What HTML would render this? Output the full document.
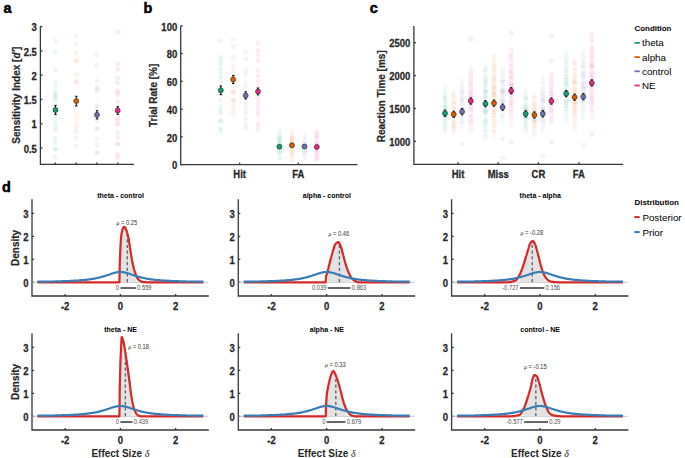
<!DOCTYPE html>
<html><head><meta charset="utf-8"><style>html,body{margin:0;padding:0;background:#fff;overflow:hidden}svg{display:block}</style></head>
<body><svg width="685" height="458" viewBox="0 0 685 458" font-family='"Liberation Sans", sans-serif'>
<rect width="685" height="458" fill="#fff"/>
<defs><filter id="bl" x="-50%" y="-10%" width="200%" height="120%"><feGaussianBlur stdDeviation="0.6"/></filter></defs>
<text transform="translate(3.4,12.9) scale(1.03,1)" font-size="14" font-weight="bold" fill="#000" stroke="#000" stroke-width="0.5">a</text>
<text transform="translate(143.4,12.9) scale(1.03,1)" font-size="14" font-weight="bold" fill="#000" stroke="#000" stroke-width="0.5">b</text>
<text transform="translate(369.7,12.9) scale(1.03,1)" font-size="14" font-weight="bold" fill="#000" stroke="#000" stroke-width="0.5">c</text>
<text transform="translate(2.0,191.5) scale(1.03,1)" font-size="14" font-weight="bold" fill="#000" stroke="#000" stroke-width="0.5">d</text>
<path d="M40.40,26.20 L40.40,164.40 L133.90,164.40" fill="none" stroke="#383838" stroke-width="1.3"/>
<line x1="40.40" y1="148.10" x2="42.40" y2="148.10" stroke="#383838" stroke-width="1.3" />
<text transform="translate(36.90,152.80) scale(1,1.2)" font-size="9.5" text-anchor="end" font-weight="bold" fill="#262626" stroke="#262626" stroke-width="0.22">0.5</text>
<line x1="40.40" y1="123.78" x2="42.40" y2="123.78" stroke="#383838" stroke-width="1.3" />
<text transform="translate(36.90,128.48) scale(1,1.2)" font-size="9.5" text-anchor="end" font-weight="bold" fill="#262626" stroke="#262626" stroke-width="0.22">1</text>
<line x1="40.40" y1="99.46" x2="42.40" y2="99.46" stroke="#383838" stroke-width="1.3" />
<text transform="translate(36.90,104.16) scale(1,1.2)" font-size="9.5" text-anchor="end" font-weight="bold" fill="#262626" stroke="#262626" stroke-width="0.22">1.5</text>
<line x1="40.40" y1="75.14" x2="42.40" y2="75.14" stroke="#383838" stroke-width="1.3" />
<text transform="translate(36.90,79.84) scale(1,1.2)" font-size="9.5" text-anchor="end" font-weight="bold" fill="#262626" stroke="#262626" stroke-width="0.22">2</text>
<line x1="40.40" y1="50.82" x2="42.40" y2="50.82" stroke="#383838" stroke-width="1.3" />
<text transform="translate(36.90,55.52) scale(1,1.2)" font-size="9.5" text-anchor="end" font-weight="bold" fill="#262626" stroke="#262626" stroke-width="0.22">2.5</text>
<line x1="40.40" y1="26.50" x2="42.40" y2="26.50" stroke="#383838" stroke-width="1.3" />
<text transform="translate(36.90,31.20) scale(1,1.2)" font-size="9.5" text-anchor="end" font-weight="bold" fill="#262626" stroke="#262626" stroke-width="0.22">3</text>
<line x1="55.30" y1="164.40" x2="55.30" y2="162.40" stroke="#383838" stroke-width="1.3" />
<line x1="76.20" y1="164.40" x2="76.20" y2="162.40" stroke="#383838" stroke-width="1.3" />
<line x1="96.90" y1="164.40" x2="96.90" y2="162.40" stroke="#383838" stroke-width="1.3" />
<line x1="117.80" y1="164.40" x2="117.80" y2="162.40" stroke="#383838" stroke-width="1.3" />
<text transform="translate(19.80,95.20) rotate(-90)" font-size="10" text-anchor="middle" font-weight="bold" fill="#262626" stroke="#262626" stroke-width="0.2">Sensitivity Index [<tspan font-style="italic">d'</tspan>]</text>
<g fill="#1b9e77" filter="url(#bl)"><circle cx="55.3" cy="41.1" r="2.5" fill-opacity="0.075"/><circle cx="55.3" cy="52.4" r="2.5" fill-opacity="0.075"/><circle cx="55.3" cy="70.1" r="2.5" fill-opacity="0.075"/><circle cx="55.3" cy="82.6" r="2.5" fill-opacity="0.075"/><circle cx="55.3" cy="87.4" r="2.5" fill-opacity="0.075"/><circle cx="55.3" cy="93.9" r="2.5" fill-opacity="0.075"/><circle cx="55.3" cy="92.4" r="2.5" fill-opacity="0.075"/><circle cx="55.3" cy="97.3" r="2.5" fill-opacity="0.075"/><circle cx="55.3" cy="97.3" r="2.5" fill-opacity="0.075"/><circle cx="55.3" cy="101.3" r="2.5" fill-opacity="0.075"/><circle cx="55.3" cy="114.2" r="2.5" fill-opacity="0.075"/><circle cx="55.3" cy="119.1" r="2.5" fill-opacity="0.075"/><circle cx="55.3" cy="123.9" r="2.5" fill-opacity="0.075"/><circle cx="55.3" cy="127.2" r="2.5" fill-opacity="0.075"/><circle cx="55.3" cy="130.4" r="2.5" fill-opacity="0.075"/><circle cx="55.3" cy="137.7" r="2.5" fill-opacity="0.075"/><circle cx="55.3" cy="142.5" r="2.5" fill-opacity="0.075"/><circle cx="55.3" cy="149" r="2.5" fill-opacity="0.075"/><circle cx="55.3" cy="149" r="2.5" fill-opacity="0.075"/><circle cx="55.3" cy="157" r="2.5" fill-opacity="0.075"/></g>
<g fill="#d95f02" filter="url(#bl)"><circle cx="76.3" cy="36.5" r="2.5" fill-opacity="0.075"/><circle cx="76.3" cy="44.3" r="2.5" fill-opacity="0.075"/><circle cx="76.3" cy="53" r="2.5" fill-opacity="0.075"/><circle cx="76.3" cy="60.8" r="2.5" fill-opacity="0.075"/><circle cx="76.3" cy="60.8" r="2.5" fill-opacity="0.075"/><circle cx="76.3" cy="74.5" r="2.5" fill-opacity="0.075"/><circle cx="76.3" cy="81.8" r="2.5" fill-opacity="0.075"/><circle cx="76.3" cy="81.8" r="2.5" fill-opacity="0.075"/><circle cx="76.3" cy="109.4" r="2.5" fill-opacity="0.075"/><circle cx="76.3" cy="114.2" r="2.5" fill-opacity="0.075"/><circle cx="76.3" cy="119.1" r="2.5" fill-opacity="0.075"/><circle cx="76.3" cy="123.9" r="2.5" fill-opacity="0.075"/><circle cx="76.3" cy="128" r="2.5" fill-opacity="0.075"/><circle cx="76.3" cy="132" r="2.5" fill-opacity="0.075"/><circle cx="76.3" cy="138.5" r="2.5" fill-opacity="0.075"/><circle cx="76.3" cy="146.5" r="2.5" fill-opacity="0.075"/></g>
<g fill="#7570b3" filter="url(#bl)"><circle cx="97" cy="55.1" r="2.5" fill-opacity="0.075"/><circle cx="97" cy="65.3" r="2.5" fill-opacity="0.075"/><circle cx="97" cy="81" r="2.5" fill-opacity="0.075"/><circle cx="97" cy="88.2" r="2.5" fill-opacity="0.075"/><circle cx="97" cy="88.2" r="2.5" fill-opacity="0.075"/><circle cx="97" cy="91.6" r="2.5" fill-opacity="0.075"/><circle cx="97" cy="105.3" r="2.5" fill-opacity="0.075"/><circle cx="97" cy="107.8" r="2.5" fill-opacity="0.075"/><circle cx="97" cy="120.7" r="2.5" fill-opacity="0.075"/><circle cx="97" cy="128.8" r="2.5" fill-opacity="0.075"/><circle cx="97" cy="128.8" r="2.5" fill-opacity="0.075"/><circle cx="97" cy="138.5" r="2.5" fill-opacity="0.075"/><circle cx="97" cy="144.9" r="2.5" fill-opacity="0.075"/><circle cx="97" cy="152.7" r="2.5" fill-opacity="0.075"/><circle cx="97" cy="152.7" r="2.5" fill-opacity="0.075"/></g>
<g fill="#e7298a" filter="url(#bl)"><circle cx="117.6" cy="32" r="2.5" fill-opacity="0.075"/><circle cx="117.6" cy="64.3" r="2.5" fill-opacity="0.075"/><circle cx="117.6" cy="69.2" r="2.5" fill-opacity="0.075"/><circle cx="117.6" cy="77.7" r="2.5" fill-opacity="0.075"/><circle cx="117.6" cy="82.6" r="2.5" fill-opacity="0.075"/><circle cx="117.6" cy="91.5" r="2.5" fill-opacity="0.075"/><circle cx="117.6" cy="91.6" r="2.5" fill-opacity="0.075"/><circle cx="117.6" cy="94.8" r="2.5" fill-opacity="0.075"/><circle cx="117.6" cy="102.1" r="2.5" fill-opacity="0.075"/><circle cx="117.6" cy="108.6" r="2.5" fill-opacity="0.075"/><circle cx="117.6" cy="119.1" r="2.5" fill-opacity="0.075"/><circle cx="117.6" cy="119.1" r="2.5" fill-opacity="0.075"/><circle cx="117.6" cy="123.9" r="2.5" fill-opacity="0.075"/><circle cx="117.6" cy="123.9" r="2.5" fill-opacity="0.075"/><circle cx="117.6" cy="132.8" r="2.5" fill-opacity="0.075"/><circle cx="117.6" cy="137.7" r="2.5" fill-opacity="0.075"/><circle cx="117.6" cy="144.1" r="2.5" fill-opacity="0.075"/><circle cx="117.6" cy="144.1" r="2.5" fill-opacity="0.075"/><circle cx="117.6" cy="154.6" r="2.5" fill-opacity="0.075"/><circle cx="117.6" cy="157.9" r="2.5" fill-opacity="0.075"/></g>
<line x1="55.50" y1="105.40" x2="55.50" y2="114.40" stroke="#111" stroke-width="1.0" />
<line x1="54.30" y1="105.40" x2="56.70" y2="105.40" stroke="#111" stroke-width="1.1" />
<line x1="54.30" y1="114.40" x2="56.70" y2="114.40" stroke="#111" stroke-width="1.1" />
<circle cx="55.50" cy="109.90" r="2.5" fill="#1b9e77" stroke="#1a1a1a" stroke-width="0.55"/>
<line x1="76.30" y1="96.30" x2="76.30" y2="105.90" stroke="#111" stroke-width="1.0" />
<line x1="75.10" y1="96.30" x2="77.50" y2="96.30" stroke="#111" stroke-width="1.1" />
<line x1="75.10" y1="105.90" x2="77.50" y2="105.90" stroke="#111" stroke-width="1.1" />
<circle cx="76.30" cy="101.10" r="2.5" fill="#d95f02" stroke="#1a1a1a" stroke-width="0.55"/>
<line x1="97.00" y1="110.70" x2="97.00" y2="118.90" stroke="#111" stroke-width="1.0" />
<line x1="95.80" y1="110.70" x2="98.20" y2="110.70" stroke="#111" stroke-width="1.1" />
<line x1="95.80" y1="118.90" x2="98.20" y2="118.90" stroke="#111" stroke-width="1.1" />
<circle cx="97.00" cy="114.80" r="2.5" fill="#7570b3" stroke="#1a1a1a" stroke-width="0.55"/>
<line x1="117.70" y1="106.70" x2="117.70" y2="114.30" stroke="#111" stroke-width="1.0" />
<line x1="116.50" y1="106.70" x2="118.90" y2="106.70" stroke="#111" stroke-width="1.1" />
<line x1="116.50" y1="114.30" x2="118.90" y2="114.30" stroke="#111" stroke-width="1.1" />
<circle cx="117.70" cy="110.50" r="2.5" fill="#e7298a" stroke="#1a1a1a" stroke-width="0.55"/>
<path d="M180.70,25.90 L180.70,164.60 L357.50,164.60" fill="none" stroke="#383838" stroke-width="1.3"/>
<line x1="180.70" y1="164.60" x2="182.70" y2="164.60" stroke="#383838" stroke-width="1.3" />
<text transform="translate(177.20,169.30) scale(1,1.2)" font-size="9.5" text-anchor="end" font-weight="bold" fill="#262626" stroke="#262626" stroke-width="0.22">0</text>
<line x1="180.70" y1="136.84" x2="182.70" y2="136.84" stroke="#383838" stroke-width="1.3" />
<text transform="translate(177.20,141.54) scale(1,1.2)" font-size="9.5" text-anchor="end" font-weight="bold" fill="#262626" stroke="#262626" stroke-width="0.22">20</text>
<line x1="180.70" y1="109.08" x2="182.70" y2="109.08" stroke="#383838" stroke-width="1.3" />
<text transform="translate(177.20,113.78) scale(1,1.2)" font-size="9.5" text-anchor="end" font-weight="bold" fill="#262626" stroke="#262626" stroke-width="0.22">40</text>
<line x1="180.70" y1="81.32" x2="182.70" y2="81.32" stroke="#383838" stroke-width="1.3" />
<text transform="translate(177.20,86.02) scale(1,1.2)" font-size="9.5" text-anchor="end" font-weight="bold" fill="#262626" stroke="#262626" stroke-width="0.22">60</text>
<line x1="180.70" y1="53.56" x2="182.70" y2="53.56" stroke="#383838" stroke-width="1.3" />
<text transform="translate(177.20,58.26) scale(1,1.2)" font-size="9.5" text-anchor="end" font-weight="bold" fill="#262626" stroke="#262626" stroke-width="0.22">80</text>
<line x1="180.70" y1="25.80" x2="182.70" y2="25.80" stroke="#383838" stroke-width="1.3" />
<text transform="translate(177.20,30.50) scale(1,1.2)" font-size="9.5" text-anchor="end" font-weight="bold" fill="#262626" stroke="#262626" stroke-width="0.22">100</text>
<line x1="239.60" y1="164.60" x2="239.60" y2="162.60" stroke="#383838" stroke-width="1.3" />
<text transform="translate(239.60,178.30) scale(1,1.2)" font-size="9.5" text-anchor="middle" font-weight="bold" fill="#262626" stroke="#262626" stroke-width="0.22">Hit</text>
<line x1="298.30" y1="164.60" x2="298.30" y2="162.60" stroke="#383838" stroke-width="1.3" />
<text transform="translate(298.30,178.30) scale(1,1.2)" font-size="9.5" text-anchor="middle" font-weight="bold" fill="#262626" stroke="#262626" stroke-width="0.22">FA</text>
<text transform="translate(157.20,95.40) rotate(-90)" font-size="10" text-anchor="middle" font-weight="bold" fill="#262626" stroke="#262626" stroke-width="0.2">Trial Rate [%]</text>
<g fill="#1b9e77" filter="url(#bl)"><circle cx="220.6" cy="40.8" r="2.5" fill-opacity="0.075"/><circle cx="220.6" cy="57.2" r="2.5" fill-opacity="0.075"/><circle cx="220.6" cy="60.5" r="2.5" fill-opacity="0.075"/><circle cx="220.6" cy="63.8" r="2.5" fill-opacity="0.075"/><circle cx="220.6" cy="67.8" r="2.5" fill-opacity="0.075"/><circle cx="220.6" cy="71.1" r="2.5" fill-opacity="0.075"/><circle cx="220.6" cy="75.2" r="2.5" fill-opacity="0.075"/><circle cx="220.6" cy="78.5" r="2.5" fill-opacity="0.075"/><circle cx="220.6" cy="82.6" r="2.5" fill-opacity="0.075"/><circle cx="220.6" cy="100.6" r="2.5" fill-opacity="0.075"/><circle cx="220.6" cy="106.4" r="2.5" fill-opacity="0.075"/><circle cx="220.6" cy="110.5" r="2.5" fill-opacity="0.075"/><circle cx="220.6" cy="112.9" r="2.5" fill-opacity="0.075"/><circle cx="220.6" cy="121.1" r="2.5" fill-opacity="0.075"/><circle cx="220.6" cy="121.1" r="2.5" fill-opacity="0.075"/><circle cx="220.6" cy="128.5" r="2.5" fill-opacity="0.075"/><circle cx="220.6" cy="130.9" r="2.5" fill-opacity="0.075"/></g>
<g fill="#d95f02" filter="url(#bl)"><circle cx="233.3" cy="39.2" r="2.5" fill-opacity="0.075"/><circle cx="233.3" cy="46.6" r="2.5" fill-opacity="0.075"/><circle cx="233.3" cy="57.2" r="2.5" fill-opacity="0.075"/><circle cx="233.3" cy="66.2" r="2.5" fill-opacity="0.075"/><circle cx="233.3" cy="71.1" r="2.5" fill-opacity="0.075"/><circle cx="233.3" cy="75.2" r="2.5" fill-opacity="0.075"/><circle cx="233.3" cy="86.7" r="2.5" fill-opacity="0.075"/><circle cx="233.3" cy="92.4" r="2.5" fill-opacity="0.075"/><circle cx="233.3" cy="91.6" r="2.5" fill-opacity="0.075"/><circle cx="233.3" cy="100.6" r="2.5" fill-opacity="0.075"/><circle cx="233.3" cy="100.6" r="2.5" fill-opacity="0.075"/><circle cx="233.3" cy="105.6" r="2.5" fill-opacity="0.075"/><circle cx="233.3" cy="109.6" r="2.5" fill-opacity="0.075"/><circle cx="233.3" cy="113.7" r="2.5" fill-opacity="0.075"/></g>
<g fill="#7570b3" filter="url(#bl)"><circle cx="245.6" cy="51.5" r="2.5" fill-opacity="0.075"/><circle cx="245.6" cy="58.8" r="2.5" fill-opacity="0.075"/><circle cx="245.6" cy="70.3" r="2.5" fill-opacity="0.075"/><circle cx="245.6" cy="74.4" r="2.5" fill-opacity="0.075"/><circle cx="245.6" cy="83.4" r="2.5" fill-opacity="0.075"/><circle cx="245.6" cy="88.3" r="2.5" fill-opacity="0.075"/><circle cx="245.6" cy="103.1" r="2.5" fill-opacity="0.075"/><circle cx="245.6" cy="108" r="2.5" fill-opacity="0.075"/><circle cx="245.6" cy="112.9" r="2.5" fill-opacity="0.075"/><circle cx="245.6" cy="118.7" r="2.5" fill-opacity="0.075"/><circle cx="245.6" cy="124.4" r="2.5" fill-opacity="0.075"/><circle cx="245.6" cy="128.5" r="2.5" fill-opacity="0.075"/></g>
<g fill="#e7298a" filter="url(#bl)"><circle cx="258" cy="43.3" r="2.5" fill-opacity="0.075"/><circle cx="258" cy="50.7" r="2.5" fill-opacity="0.075"/><circle cx="258" cy="55.6" r="2.5" fill-opacity="0.075"/><circle cx="258" cy="60.5" r="2.5" fill-opacity="0.075"/><circle cx="258" cy="70.3" r="2.5" fill-opacity="0.075"/><circle cx="258" cy="76" r="2.5" fill-opacity="0.075"/><circle cx="258" cy="81" r="2.5" fill-opacity="0.075"/><circle cx="258" cy="85.9" r="2.5" fill-opacity="0.075"/><circle cx="258" cy="98.2" r="2.5" fill-opacity="0.075"/><circle cx="258" cy="102.3" r="2.5" fill-opacity="0.075"/><circle cx="258" cy="106.4" r="2.5" fill-opacity="0.075"/><circle cx="258" cy="110.5" r="2.5" fill-opacity="0.075"/><circle cx="258" cy="114.6" r="2.5" fill-opacity="0.075"/><circle cx="258" cy="124.4" r="2.5" fill-opacity="0.075"/><circle cx="258" cy="129.3" r="2.5" fill-opacity="0.075"/></g>
<g fill="#1b9e77" filter="url(#bl)"><circle cx="279.5" cy="130.4" r="2.5" fill-opacity="0.051"/><circle cx="279.5" cy="134.5" r="2.5" fill-opacity="0.068"/><circle cx="279.5" cy="137.6" r="2.5" fill-opacity="0.114"/><circle cx="279.5" cy="139.8" r="2.5" fill-opacity="0.148"/><circle cx="279.5" cy="143.1" r="2.5" fill-opacity="0.162"/><circle cx="279.5" cy="146.6" r="2.5" fill-opacity="0.123"/><circle cx="279.5" cy="150.8" r="2.5" fill-opacity="0.149"/><circle cx="279.5" cy="153.4" r="2.5" fill-opacity="0.081"/><circle cx="279.5" cy="158" r="2.5" fill-opacity="0.082"/></g>
<g fill="#d95f02" filter="url(#bl)"><circle cx="291.9" cy="130.5" r="2.5" fill-opacity="0.063"/><circle cx="291.9" cy="134.7" r="2.5" fill-opacity="0.069"/><circle cx="291.9" cy="137.7" r="2.5" fill-opacity="0.108"/><circle cx="291.9" cy="139.2" r="2.5" fill-opacity="0.107"/><circle cx="291.9" cy="142.9" r="2.5" fill-opacity="0.197"/><circle cx="291.9" cy="145.9" r="2.5" fill-opacity="0.178"/><circle cx="291.9" cy="150.2" r="2.5" fill-opacity="0.132"/><circle cx="291.9" cy="153.3" r="2.5" fill-opacity="0.084"/><circle cx="291.9" cy="155.4" r="2.5" fill-opacity="0.078"/><circle cx="291.9" cy="160.1" r="2.5" fill-opacity="0.061"/></g>
<g fill="#7570b3" filter="url(#bl)"><circle cx="304.6" cy="135.9" r="2.5" fill-opacity="0.067"/><circle cx="304.6" cy="139.9" r="2.5" fill-opacity="0.086"/><circle cx="304.6" cy="144.5" r="2.5" fill-opacity="0.172"/><circle cx="304.6" cy="146.9" r="2.5" fill-opacity="0.177"/><circle cx="304.6" cy="151.3" r="2.5" fill-opacity="0.178"/><circle cx="304.6" cy="155.5" r="2.5" fill-opacity="0.081"/><circle cx="304.6" cy="159.9" r="2.5" fill-opacity="0.046"/></g>
<g fill="#e7298a" filter="url(#bl)"><circle cx="316.8" cy="132.1" r="2.5" fill-opacity="0.075"/><circle cx="316.8" cy="134.9" r="2.5" fill-opacity="0.081"/><circle cx="316.8" cy="138" r="2.5" fill-opacity="0.122"/><circle cx="316.8" cy="143.2" r="2.5" fill-opacity="0.168"/><circle cx="316.8" cy="146.9" r="2.5" fill-opacity="0.151"/><circle cx="316.8" cy="149.9" r="2.5" fill-opacity="0.161"/><circle cx="316.8" cy="153" r="2.5" fill-opacity="0.118"/><circle cx="316.8" cy="157.1" r="2.5" fill-opacity="0.104"/><circle cx="316.8" cy="159.6" r="2.5" fill-opacity="0.073"/></g>
<line x1="220.80" y1="86.00" x2="220.80" y2="94.60" stroke="#111" stroke-width="1.0" />
<line x1="219.60" y1="86.00" x2="222.00" y2="86.00" stroke="#111" stroke-width="1.1" />
<line x1="219.60" y1="94.60" x2="222.00" y2="94.60" stroke="#111" stroke-width="1.1" />
<circle cx="220.80" cy="90.30" r="2.5" fill="#1b9e77" stroke="#1a1a1a" stroke-width="0.55"/>
<line x1="279.40" y1="145.20" x2="279.40" y2="148.20" stroke="#111" stroke-width="1.0" />
<line x1="278.20" y1="145.20" x2="280.60" y2="145.20" stroke="#111" stroke-width="1.1" />
<line x1="278.20" y1="148.20" x2="280.60" y2="148.20" stroke="#111" stroke-width="1.1" />
<circle cx="279.40" cy="146.70" r="2.5" fill="#1b9e77" stroke="#1a1a1a" stroke-width="0.55"/>
<line x1="233.20" y1="75.50" x2="233.20" y2="83.50" stroke="#111" stroke-width="1.0" />
<line x1="232.00" y1="75.50" x2="234.40" y2="75.50" stroke="#111" stroke-width="1.1" />
<line x1="232.00" y1="83.50" x2="234.40" y2="83.50" stroke="#111" stroke-width="1.1" />
<circle cx="233.20" cy="79.50" r="2.5" fill="#d95f02" stroke="#1a1a1a" stroke-width="0.55"/>
<line x1="291.90" y1="143.80" x2="291.90" y2="146.80" stroke="#111" stroke-width="1.0" />
<line x1="290.70" y1="143.80" x2="293.10" y2="143.80" stroke="#111" stroke-width="1.1" />
<line x1="290.70" y1="146.80" x2="293.10" y2="146.80" stroke="#111" stroke-width="1.1" />
<circle cx="291.90" cy="145.30" r="2.5" fill="#d95f02" stroke="#1a1a1a" stroke-width="0.55"/>
<line x1="245.70" y1="91.80" x2="245.70" y2="99.00" stroke="#111" stroke-width="1.0" />
<line x1="244.50" y1="91.80" x2="246.90" y2="91.80" stroke="#111" stroke-width="1.1" />
<line x1="244.50" y1="99.00" x2="246.90" y2="99.00" stroke="#111" stroke-width="1.1" />
<circle cx="245.70" cy="95.40" r="2.5" fill="#7570b3" stroke="#1a1a1a" stroke-width="0.55"/>
<line x1="304.50" y1="145.00" x2="304.50" y2="148.00" stroke="#111" stroke-width="1.0" />
<line x1="303.30" y1="145.00" x2="305.70" y2="145.00" stroke="#111" stroke-width="1.1" />
<line x1="303.30" y1="148.00" x2="305.70" y2="148.00" stroke="#111" stroke-width="1.1" />
<circle cx="304.50" cy="146.50" r="2.5" fill="#7570b3" stroke="#1a1a1a" stroke-width="0.55"/>
<line x1="258.00" y1="88.10" x2="258.00" y2="94.90" stroke="#111" stroke-width="1.0" />
<line x1="256.80" y1="88.10" x2="259.20" y2="88.10" stroke="#111" stroke-width="1.1" />
<line x1="256.80" y1="94.90" x2="259.20" y2="94.90" stroke="#111" stroke-width="1.1" />
<circle cx="258.00" cy="91.50" r="2.5" fill="#e7298a" stroke="#1a1a1a" stroke-width="0.55"/>
<line x1="316.80" y1="145.40" x2="316.80" y2="148.40" stroke="#111" stroke-width="1.0" />
<line x1="315.60" y1="145.40" x2="318.00" y2="145.40" stroke="#111" stroke-width="1.1" />
<line x1="315.60" y1="148.40" x2="318.00" y2="148.40" stroke="#111" stroke-width="1.1" />
<circle cx="316.80" cy="146.90" r="2.5" fill="#e7298a" stroke="#1a1a1a" stroke-width="0.55"/>
<path d="M413.90,26.00 L413.90,164.30 L623.20,164.30" fill="none" stroke="#383838" stroke-width="1.3"/>
<line x1="413.90" y1="141.40" x2="415.90" y2="141.40" stroke="#383838" stroke-width="1.3" />
<text transform="translate(410.40,146.10) scale(1,1.2)" font-size="9.5" text-anchor="end" font-weight="bold" fill="#262626" stroke="#262626" stroke-width="0.22">1000</text>
<line x1="413.90" y1="108.50" x2="415.90" y2="108.50" stroke="#383838" stroke-width="1.3" />
<text transform="translate(410.40,113.20) scale(1,1.2)" font-size="9.5" text-anchor="end" font-weight="bold" fill="#262626" stroke="#262626" stroke-width="0.22">1500</text>
<line x1="413.90" y1="75.60" x2="415.90" y2="75.60" stroke="#383838" stroke-width="1.3" />
<text transform="translate(410.40,80.30) scale(1,1.2)" font-size="9.5" text-anchor="end" font-weight="bold" fill="#262626" stroke="#262626" stroke-width="0.22">2000</text>
<line x1="413.90" y1="42.70" x2="415.90" y2="42.70" stroke="#383838" stroke-width="1.3" />
<text transform="translate(410.40,47.40) scale(1,1.2)" font-size="9.5" text-anchor="end" font-weight="bold" fill="#262626" stroke="#262626" stroke-width="0.22">2500</text>
<line x1="458.00" y1="164.30" x2="458.00" y2="162.30" stroke="#383838" stroke-width="1.3" />
<text transform="translate(458.00,178.00) scale(1,1.2)" font-size="9.5" text-anchor="middle" font-weight="bold" fill="#262626" stroke="#262626" stroke-width="0.22">Hit</text>
<line x1="498.20" y1="164.30" x2="498.20" y2="162.30" stroke="#383838" stroke-width="1.3" />
<text transform="translate(498.20,178.00) scale(1,1.2)" font-size="9.5" text-anchor="middle" font-weight="bold" fill="#262626" stroke="#262626" stroke-width="0.22">Miss</text>
<line x1="538.40" y1="164.30" x2="538.40" y2="162.30" stroke="#383838" stroke-width="1.3" />
<text transform="translate(538.40,178.00) scale(1,1.2)" font-size="9.5" text-anchor="middle" font-weight="bold" fill="#262626" stroke="#262626" stroke-width="0.22">CR</text>
<line x1="578.90" y1="164.30" x2="578.90" y2="162.30" stroke="#383838" stroke-width="1.3" />
<text transform="translate(578.90,178.00) scale(1,1.2)" font-size="9.5" text-anchor="middle" font-weight="bold" fill="#262626" stroke="#262626" stroke-width="0.22">FA</text>
<text transform="translate(384.80,96.30) rotate(-90)" font-size="10" text-anchor="middle" font-weight="bold" fill="#262626" stroke="#262626" stroke-width="0.2">Reaction Time [ms]</text>
<g fill="#1b9e77" filter="url(#bl)"><circle cx="445" cy="86.9" r="2.5" fill-opacity="0.051"/><circle cx="445" cy="91.8" r="2.5" fill-opacity="0.075"/><circle cx="445" cy="95.6" r="2.5" fill-opacity="0.064"/><circle cx="445" cy="98" r="2.5" fill-opacity="0.092"/><circle cx="445" cy="100.5" r="2.5" fill-opacity="0.094"/><circle cx="445" cy="104.3" r="2.5" fill-opacity="0.087"/><circle cx="445" cy="107.4" r="2.5" fill-opacity="0.141"/><circle cx="445" cy="111" r="2.5" fill-opacity="0.105"/><circle cx="445" cy="115.1" r="2.5" fill-opacity="0.142"/><circle cx="445" cy="117.7" r="2.5" fill-opacity="0.103"/><circle cx="445" cy="122.3" r="2.5" fill-opacity="0.104"/><circle cx="445" cy="126.3" r="2.5" fill-opacity="0.081"/><circle cx="445" cy="128.5" r="2.5" fill-opacity="0.056"/><circle cx="445" cy="132.1" r="2.5" fill-opacity="0.060"/></g>
<g fill="#d95f02" filter="url(#bl)"><circle cx="453.7" cy="92.7" r="2.5" fill-opacity="0.040"/><circle cx="453.7" cy="94.2" r="2.5" fill-opacity="0.046"/><circle cx="453.7" cy="97.6" r="2.5" fill-opacity="0.066"/><circle cx="453.7" cy="101.8" r="2.5" fill-opacity="0.074"/><circle cx="453.7" cy="103.7" r="2.5" fill-opacity="0.091"/><circle cx="453.7" cy="107.9" r="2.5" fill-opacity="0.119"/><circle cx="453.7" cy="112.7" r="2.5" fill-opacity="0.138"/><circle cx="453.7" cy="115" r="2.5" fill-opacity="0.132"/><circle cx="453.7" cy="118.7" r="2.5" fill-opacity="0.083"/><circle cx="453.7" cy="122.5" r="2.5" fill-opacity="0.113"/><circle cx="453.7" cy="125.8" r="2.5" fill-opacity="0.095"/><circle cx="453.7" cy="128" r="2.5" fill-opacity="0.067"/><circle cx="453.7" cy="130.6" r="2.5" fill-opacity="0.065"/><circle cx="453.7" cy="133.8" r="2.5" fill-opacity="0.037"/></g>
<g fill="#7570b3" filter="url(#bl)"><circle cx="462.1" cy="80.1" r="2.5" fill-opacity="0.037"/><circle cx="462.1" cy="83.8" r="2.5" fill-opacity="0.040"/><circle cx="462.1" cy="86.3" r="2.5" fill-opacity="0.050"/><circle cx="462.1" cy="89.9" r="2.5" fill-opacity="0.071"/><circle cx="462.1" cy="93" r="2.5" fill-opacity="0.112"/><circle cx="462.1" cy="97.8" r="2.5" fill-opacity="0.088"/><circle cx="462.1" cy="100.3" r="2.5" fill-opacity="0.108"/><circle cx="462.1" cy="103.9" r="2.5" fill-opacity="0.096"/><circle cx="462.1" cy="108.4" r="2.5" fill-opacity="0.154"/><circle cx="462.1" cy="110.8" r="2.5" fill-opacity="0.110"/><circle cx="462.1" cy="113.2" r="2.5" fill-opacity="0.077"/><circle cx="462.1" cy="117.2" r="2.5" fill-opacity="0.072"/><circle cx="462.1" cy="121.7" r="2.5" fill-opacity="0.052"/><circle cx="462.1" cy="123.1" r="2.5" fill-opacity="0.076"/><circle cx="462.1" cy="127.7" r="2.5" fill-opacity="0.038"/><circle cx="462.1" cy="143.9" r="2.5" fill-opacity="0.080"/></g>
<g fill="#e7298a" filter="url(#bl)"><circle cx="470.8" cy="67.7" r="2.5" fill-opacity="0.034"/><circle cx="470.8" cy="71" r="2.5" fill-opacity="0.069"/><circle cx="470.8" cy="75" r="2.5" fill-opacity="0.071"/><circle cx="470.8" cy="76.9" r="2.5" fill-opacity="0.063"/><circle cx="470.8" cy="79.9" r="2.5" fill-opacity="0.091"/><circle cx="470.8" cy="84.1" r="2.5" fill-opacity="0.108"/><circle cx="470.8" cy="86.9" r="2.5" fill-opacity="0.085"/><circle cx="470.8" cy="91.3" r="2.5" fill-opacity="0.148"/><circle cx="470.8" cy="94.7" r="2.5" fill-opacity="0.143"/><circle cx="470.8" cy="97.9" r="2.5" fill-opacity="0.142"/><circle cx="470.8" cy="99.8" r="2.5" fill-opacity="0.125"/><circle cx="470.8" cy="103.4" r="2.5" fill-opacity="0.086"/><circle cx="470.8" cy="105.9" r="2.5" fill-opacity="0.100"/><circle cx="470.8" cy="109.7" r="2.5" fill-opacity="0.117"/><circle cx="470.8" cy="114.7" r="2.5" fill-opacity="0.086"/><circle cx="470.8" cy="117.9" r="2.5" fill-opacity="0.100"/><circle cx="470.8" cy="121.2" r="2.5" fill-opacity="0.062"/><circle cx="470.8" cy="122.8" r="2.5" fill-opacity="0.053"/><circle cx="470.8" cy="126" r="2.5" fill-opacity="0.045"/><circle cx="470.8" cy="130.3" r="2.5" fill-opacity="0.059"/><circle cx="470.8" cy="39.2" r="2.5" fill-opacity="0.080"/></g>
<g fill="#1b9e77" filter="url(#bl)"><circle cx="485.4" cy="66.9" r="2.5" fill-opacity="0.048"/><circle cx="485.4" cy="69.8" r="2.5" fill-opacity="0.063"/><circle cx="485.4" cy="71.7" r="2.5" fill-opacity="0.063"/><circle cx="485.4" cy="77" r="2.5" fill-opacity="0.081"/><circle cx="485.4" cy="79.9" r="2.5" fill-opacity="0.076"/><circle cx="485.4" cy="81.8" r="2.5" fill-opacity="0.097"/><circle cx="485.4" cy="85.4" r="2.5" fill-opacity="0.110"/><circle cx="485.4" cy="90.3" r="2.5" fill-opacity="0.100"/><circle cx="485.4" cy="92.2" r="2.5" fill-opacity="0.141"/><circle cx="485.4" cy="96.3" r="2.5" fill-opacity="0.096"/><circle cx="485.4" cy="98.1" r="2.5" fill-opacity="0.096"/><circle cx="485.4" cy="103.3" r="2.5" fill-opacity="0.147"/><circle cx="485.4" cy="104.7" r="2.5" fill-opacity="0.147"/><circle cx="485.4" cy="110" r="2.5" fill-opacity="0.127"/><circle cx="485.4" cy="111.8" r="2.5" fill-opacity="0.116"/><circle cx="485.4" cy="114.6" r="2.5" fill-opacity="0.075"/><circle cx="485.4" cy="119.9" r="2.5" fill-opacity="0.099"/><circle cx="485.4" cy="122.1" r="2.5" fill-opacity="0.106"/><circle cx="485.4" cy="125.2" r="2.5" fill-opacity="0.092"/><circle cx="485.4" cy="129.4" r="2.5" fill-opacity="0.053"/><circle cx="485.4" cy="131.3" r="2.5" fill-opacity="0.053"/><circle cx="485.4" cy="134.6" r="2.5" fill-opacity="0.057"/><circle cx="485.4" cy="137.9" r="2.5" fill-opacity="0.046"/></g>
<g fill="#d95f02" filter="url(#bl)"><circle cx="494" cy="55.7" r="2.5" fill-opacity="0.058"/><circle cx="494" cy="59.5" r="2.5" fill-opacity="0.051"/><circle cx="494" cy="63.4" r="2.5" fill-opacity="0.072"/><circle cx="494" cy="66.2" r="2.5" fill-opacity="0.080"/><circle cx="494" cy="69.7" r="2.5" fill-opacity="0.074"/><circle cx="494" cy="73" r="2.5" fill-opacity="0.057"/><circle cx="494" cy="76.1" r="2.5" fill-opacity="0.072"/><circle cx="494" cy="78.3" r="2.5" fill-opacity="0.112"/><circle cx="494" cy="82" r="2.5" fill-opacity="0.103"/><circle cx="494" cy="86.6" r="2.5" fill-opacity="0.119"/><circle cx="494" cy="88.9" r="2.5" fill-opacity="0.120"/><circle cx="494" cy="92.8" r="2.5" fill-opacity="0.144"/><circle cx="494" cy="95" r="2.5" fill-opacity="0.128"/><circle cx="494" cy="98.6" r="2.5" fill-opacity="0.107"/><circle cx="494" cy="103.1" r="2.5" fill-opacity="0.119"/><circle cx="494" cy="105.9" r="2.5" fill-opacity="0.131"/><circle cx="494" cy="110" r="2.5" fill-opacity="0.101"/><circle cx="494" cy="112.5" r="2.5" fill-opacity="0.098"/><circle cx="494" cy="115.6" r="2.5" fill-opacity="0.100"/><circle cx="494" cy="118.7" r="2.5" fill-opacity="0.082"/><circle cx="494" cy="122" r="2.5" fill-opacity="0.091"/><circle cx="494" cy="125.9" r="2.5" fill-opacity="0.078"/><circle cx="494" cy="129.7" r="2.5" fill-opacity="0.048"/><circle cx="494" cy="132.1" r="2.5" fill-opacity="0.066"/><circle cx="494" cy="136" r="2.5" fill-opacity="0.037"/></g>
<g fill="#7570b3" filter="url(#bl)"><circle cx="502.6" cy="68.4" r="2.5" fill-opacity="0.045"/><circle cx="502.6" cy="71.6" r="2.5" fill-opacity="0.044"/><circle cx="502.6" cy="74.9" r="2.5" fill-opacity="0.068"/><circle cx="502.6" cy="80" r="2.5" fill-opacity="0.098"/><circle cx="502.6" cy="81.8" r="2.5" fill-opacity="0.097"/><circle cx="502.6" cy="86.3" r="2.5" fill-opacity="0.082"/><circle cx="502.6" cy="90.2" r="2.5" fill-opacity="0.149"/><circle cx="502.6" cy="91.9" r="2.5" fill-opacity="0.153"/><circle cx="502.6" cy="95.7" r="2.5" fill-opacity="0.123"/><circle cx="502.6" cy="100.5" r="2.5" fill-opacity="0.143"/><circle cx="502.6" cy="101.8" r="2.5" fill-opacity="0.111"/><circle cx="502.6" cy="106" r="2.5" fill-opacity="0.092"/><circle cx="502.6" cy="108.5" r="2.5" fill-opacity="0.082"/><circle cx="502.6" cy="113.1" r="2.5" fill-opacity="0.053"/><circle cx="502.6" cy="116.1" r="2.5" fill-opacity="0.062"/><circle cx="502.6" cy="118.1" r="2.5" fill-opacity="0.052"/><circle cx="502.6" cy="122.9" r="2.5" fill-opacity="0.048"/><circle cx="502.6" cy="138.7" r="2.5" fill-opacity="0.080"/><circle cx="502.6" cy="157.7" r="2.5" fill-opacity="0.080"/></g>
<g fill="#e7298a" filter="url(#bl)"><circle cx="511.2" cy="49.3" r="2.5" fill-opacity="0.060"/><circle cx="511.2" cy="54.3" r="2.5" fill-opacity="0.069"/><circle cx="511.2" cy="55.9" r="2.5" fill-opacity="0.049"/><circle cx="511.2" cy="59" r="2.5" fill-opacity="0.074"/><circle cx="511.2" cy="62.9" r="2.5" fill-opacity="0.056"/><circle cx="511.2" cy="66.5" r="2.5" fill-opacity="0.102"/><circle cx="511.2" cy="70.8" r="2.5" fill-opacity="0.080"/><circle cx="511.2" cy="72.4" r="2.5" fill-opacity="0.123"/><circle cx="511.2" cy="76.7" r="2.5" fill-opacity="0.123"/><circle cx="511.2" cy="78.9" r="2.5" fill-opacity="0.084"/><circle cx="511.2" cy="83.6" r="2.5" fill-opacity="0.116"/><circle cx="511.2" cy="85.4" r="2.5" fill-opacity="0.156"/><circle cx="511.2" cy="90" r="2.5" fill-opacity="0.146"/><circle cx="511.2" cy="92" r="2.5" fill-opacity="0.148"/><circle cx="511.2" cy="95.2" r="2.5" fill-opacity="0.144"/><circle cx="511.2" cy="99.4" r="2.5" fill-opacity="0.099"/><circle cx="511.2" cy="102.9" r="2.5" fill-opacity="0.126"/><circle cx="511.2" cy="105.5" r="2.5" fill-opacity="0.073"/><circle cx="511.2" cy="109.5" r="2.5" fill-opacity="0.069"/><circle cx="511.2" cy="111.7" r="2.5" fill-opacity="0.061"/><circle cx="511.2" cy="114.9" r="2.5" fill-opacity="0.056"/><circle cx="511.2" cy="118.8" r="2.5" fill-opacity="0.052"/><circle cx="511.2" cy="123.1" r="2.5" fill-opacity="0.045"/><circle cx="511.2" cy="125.8" r="2.5" fill-opacity="0.039"/><circle cx="511.2" cy="32.7" r="2.5" fill-opacity="0.080"/><circle cx="511.2" cy="141.8" r="2.5" fill-opacity="0.080"/></g>
<g fill="#1b9e77" filter="url(#bl)"><circle cx="525.7" cy="89.4" r="2.5" fill-opacity="0.033"/><circle cx="525.7" cy="92.5" r="2.5" fill-opacity="0.039"/><circle cx="525.7" cy="96.9" r="2.5" fill-opacity="0.074"/><circle cx="525.7" cy="98.8" r="2.5" fill-opacity="0.080"/><circle cx="525.7" cy="103.9" r="2.5" fill-opacity="0.081"/><circle cx="525.7" cy="106.9" r="2.5" fill-opacity="0.113"/><circle cx="525.7" cy="109.4" r="2.5" fill-opacity="0.148"/><circle cx="525.7" cy="112.4" r="2.5" fill-opacity="0.124"/><circle cx="525.7" cy="116.3" r="2.5" fill-opacity="0.146"/><circle cx="525.7" cy="118.8" r="2.5" fill-opacity="0.124"/><circle cx="525.7" cy="122.9" r="2.5" fill-opacity="0.090"/><circle cx="525.7" cy="125.4" r="2.5" fill-opacity="0.064"/><circle cx="525.7" cy="127.9" r="2.5" fill-opacity="0.047"/><circle cx="525.7" cy="131.2" r="2.5" fill-opacity="0.058"/></g>
<g fill="#d95f02" filter="url(#bl)"><circle cx="534.4" cy="95.6" r="2.5" fill-opacity="0.037"/><circle cx="534.4" cy="98.5" r="2.5" fill-opacity="0.066"/><circle cx="534.4" cy="103.6" r="2.5" fill-opacity="0.085"/><circle cx="534.4" cy="105.4" r="2.5" fill-opacity="0.073"/><circle cx="534.4" cy="108.7" r="2.5" fill-opacity="0.101"/><circle cx="534.4" cy="111.6" r="2.5" fill-opacity="0.113"/><circle cx="534.4" cy="115.1" r="2.5" fill-opacity="0.158"/><circle cx="534.4" cy="120.1" r="2.5" fill-opacity="0.119"/><circle cx="534.4" cy="121.6" r="2.5" fill-opacity="0.140"/><circle cx="534.4" cy="125" r="2.5" fill-opacity="0.084"/><circle cx="534.4" cy="127.5" r="2.5" fill-opacity="0.073"/><circle cx="534.4" cy="131.9" r="2.5" fill-opacity="0.058"/><circle cx="534.4" cy="134.5" r="2.5" fill-opacity="0.050"/></g>
<g fill="#7570b3" filter="url(#bl)"><circle cx="542.8" cy="77.6" r="2.5" fill-opacity="0.039"/><circle cx="542.8" cy="81.2" r="2.5" fill-opacity="0.050"/><circle cx="542.8" cy="84.4" r="2.5" fill-opacity="0.044"/><circle cx="542.8" cy="88.4" r="2.5" fill-opacity="0.065"/><circle cx="542.8" cy="92.4" r="2.5" fill-opacity="0.095"/><circle cx="542.8" cy="96.1" r="2.5" fill-opacity="0.119"/><circle cx="542.8" cy="99.4" r="2.5" fill-opacity="0.145"/><circle cx="542.8" cy="102" r="2.5" fill-opacity="0.110"/><circle cx="542.8" cy="106.7" r="2.5" fill-opacity="0.096"/><circle cx="542.8" cy="109.5" r="2.5" fill-opacity="0.126"/><circle cx="542.8" cy="111.2" r="2.5" fill-opacity="0.133"/><circle cx="542.8" cy="116.6" r="2.5" fill-opacity="0.096"/><circle cx="542.8" cy="119.5" r="2.5" fill-opacity="0.091"/><circle cx="542.8" cy="121.4" r="2.5" fill-opacity="0.070"/><circle cx="542.8" cy="125.7" r="2.5" fill-opacity="0.067"/><circle cx="542.8" cy="129.7" r="2.5" fill-opacity="0.056"/><circle cx="542.8" cy="156" r="2.5" fill-opacity="0.080"/></g>
<g fill="#e7298a" filter="url(#bl)"><circle cx="551.4" cy="74.2" r="2.5" fill-opacity="0.060"/><circle cx="551.4" cy="77.7" r="2.5" fill-opacity="0.063"/><circle cx="551.4" cy="79.8" r="2.5" fill-opacity="0.046"/><circle cx="551.4" cy="82.8" r="2.5" fill-opacity="0.069"/><circle cx="551.4" cy="86" r="2.5" fill-opacity="0.107"/><circle cx="551.4" cy="90.3" r="2.5" fill-opacity="0.115"/><circle cx="551.4" cy="93.7" r="2.5" fill-opacity="0.131"/><circle cx="551.4" cy="96.7" r="2.5" fill-opacity="0.086"/><circle cx="551.4" cy="100.6" r="2.5" fill-opacity="0.141"/><circle cx="551.4" cy="103.2" r="2.5" fill-opacity="0.120"/><circle cx="551.4" cy="106.8" r="2.5" fill-opacity="0.078"/><circle cx="551.4" cy="110.2" r="2.5" fill-opacity="0.077"/><circle cx="551.4" cy="111.9" r="2.5" fill-opacity="0.072"/><circle cx="551.4" cy="116.7" r="2.5" fill-opacity="0.053"/><circle cx="551.4" cy="119.9" r="2.5" fill-opacity="0.069"/><circle cx="551.4" cy="122.6" r="2.5" fill-opacity="0.045"/><circle cx="551.4" cy="35.8" r="2.5" fill-opacity="0.080"/><circle cx="551.4" cy="61.1" r="2.5" fill-opacity="0.080"/><circle cx="551.4" cy="141.8" r="2.5" fill-opacity="0.080"/></g>
<g fill="#1b9e77" filter="url(#bl)"><circle cx="566.2" cy="53.3" r="2.5" fill-opacity="0.053"/><circle cx="566.2" cy="57.3" r="2.5" fill-opacity="0.058"/><circle cx="566.2" cy="60.4" r="2.5" fill-opacity="0.046"/><circle cx="566.2" cy="62.5" r="2.5" fill-opacity="0.057"/><circle cx="566.2" cy="67.2" r="2.5" fill-opacity="0.071"/><circle cx="566.2" cy="70.1" r="2.5" fill-opacity="0.064"/><circle cx="566.2" cy="72.2" r="2.5" fill-opacity="0.083"/><circle cx="566.2" cy="76.9" r="2.5" fill-opacity="0.123"/><circle cx="566.2" cy="80.3" r="2.5" fill-opacity="0.103"/><circle cx="566.2" cy="83.2" r="2.5" fill-opacity="0.120"/><circle cx="566.2" cy="86.4" r="2.5" fill-opacity="0.096"/><circle cx="566.2" cy="90.7" r="2.5" fill-opacity="0.099"/><circle cx="566.2" cy="94.2" r="2.5" fill-opacity="0.145"/><circle cx="566.2" cy="95.2" r="2.5" fill-opacity="0.110"/><circle cx="566.2" cy="100.4" r="2.5" fill-opacity="0.125"/><circle cx="566.2" cy="102.9" r="2.5" fill-opacity="0.077"/><circle cx="566.2" cy="105.6" r="2.5" fill-opacity="0.103"/><circle cx="566.2" cy="108.9" r="2.5" fill-opacity="0.074"/><circle cx="566.2" cy="112" r="2.5" fill-opacity="0.063"/><circle cx="566.2" cy="117.3" r="2.5" fill-opacity="0.040"/><circle cx="566.2" cy="120.3" r="2.5" fill-opacity="0.047"/></g>
<g fill="#d95f02" filter="url(#bl)"><circle cx="574.6" cy="62.3" r="2.5" fill-opacity="0.055"/><circle cx="574.6" cy="64.1" r="2.5" fill-opacity="0.065"/><circle cx="574.6" cy="68" r="2.5" fill-opacity="0.043"/><circle cx="574.6" cy="70.1" r="2.5" fill-opacity="0.065"/><circle cx="574.6" cy="74.5" r="2.5" fill-opacity="0.069"/><circle cx="574.6" cy="77" r="2.5" fill-opacity="0.078"/><circle cx="574.6" cy="80.8" r="2.5" fill-opacity="0.119"/><circle cx="574.6" cy="83.3" r="2.5" fill-opacity="0.122"/><circle cx="574.6" cy="88.6" r="2.5" fill-opacity="0.092"/><circle cx="574.6" cy="92.1" r="2.5" fill-opacity="0.139"/><circle cx="574.6" cy="95.4" r="2.5" fill-opacity="0.108"/><circle cx="574.6" cy="97.4" r="2.5" fill-opacity="0.115"/><circle cx="574.6" cy="102.2" r="2.5" fill-opacity="0.121"/><circle cx="574.6" cy="104" r="2.5" fill-opacity="0.106"/><circle cx="574.6" cy="107.1" r="2.5" fill-opacity="0.074"/><circle cx="574.6" cy="109.9" r="2.5" fill-opacity="0.111"/><circle cx="574.6" cy="113.7" r="2.5" fill-opacity="0.101"/><circle cx="574.6" cy="116.9" r="2.5" fill-opacity="0.061"/><circle cx="574.6" cy="120.8" r="2.5" fill-opacity="0.049"/><circle cx="574.6" cy="123.8" r="2.5" fill-opacity="0.069"/><circle cx="574.6" cy="128.3" r="2.5" fill-opacity="0.055"/></g>
<g fill="#7570b3" filter="url(#bl)"><circle cx="583.3" cy="52.1" r="2.5" fill-opacity="0.060"/><circle cx="583.3" cy="56.1" r="2.5" fill-opacity="0.057"/><circle cx="583.3" cy="58.8" r="2.5" fill-opacity="0.045"/><circle cx="583.3" cy="62" r="2.5" fill-opacity="0.069"/><circle cx="583.3" cy="65.3" r="2.5" fill-opacity="0.088"/><circle cx="583.3" cy="67.4" r="2.5" fill-opacity="0.064"/><circle cx="583.3" cy="72.1" r="2.5" fill-opacity="0.080"/><circle cx="583.3" cy="74.3" r="2.5" fill-opacity="0.099"/><circle cx="583.3" cy="77.1" r="2.5" fill-opacity="0.133"/><circle cx="583.3" cy="81.9" r="2.5" fill-opacity="0.106"/><circle cx="583.3" cy="84.4" r="2.5" fill-opacity="0.109"/><circle cx="583.3" cy="87.4" r="2.5" fill-opacity="0.114"/><circle cx="583.3" cy="89.6" r="2.5" fill-opacity="0.095"/><circle cx="583.3" cy="93" r="2.5" fill-opacity="0.139"/><circle cx="583.3" cy="96.9" r="2.5" fill-opacity="0.083"/><circle cx="583.3" cy="101.1" r="2.5" fill-opacity="0.112"/><circle cx="583.3" cy="103.2" r="2.5" fill-opacity="0.062"/><circle cx="583.3" cy="105.8" r="2.5" fill-opacity="0.054"/><circle cx="583.3" cy="109.4" r="2.5" fill-opacity="0.046"/><circle cx="583.3" cy="112.4" r="2.5" fill-opacity="0.047"/><circle cx="583.3" cy="116.4" r="2.5" fill-opacity="0.059"/><circle cx="583.3" cy="145" r="2.5" fill-opacity="0.080"/></g>
<g fill="#e7298a" filter="url(#bl)"><circle cx="591.8" cy="33.4" r="2.5" fill-opacity="0.046"/><circle cx="591.8" cy="35.8" r="2.5" fill-opacity="0.052"/><circle cx="591.8" cy="38.9" r="2.5" fill-opacity="0.051"/><circle cx="591.8" cy="41.4" r="2.5" fill-opacity="0.053"/><circle cx="591.8" cy="46.8" r="2.5" fill-opacity="0.056"/><circle cx="591.8" cy="48.8" r="2.5" fill-opacity="0.083"/><circle cx="591.8" cy="52.9" r="2.5" fill-opacity="0.073"/><circle cx="591.8" cy="54.7" r="2.5" fill-opacity="0.078"/><circle cx="591.8" cy="58.2" r="2.5" fill-opacity="0.098"/><circle cx="591.8" cy="62.8" r="2.5" fill-opacity="0.134"/><circle cx="591.8" cy="65.8" r="2.5" fill-opacity="0.083"/><circle cx="591.8" cy="67" r="2.5" fill-opacity="0.133"/><circle cx="591.8" cy="72.2" r="2.5" fill-opacity="0.122"/><circle cx="591.8" cy="74.7" r="2.5" fill-opacity="0.087"/><circle cx="591.8" cy="77.4" r="2.5" fill-opacity="0.155"/><circle cx="591.8" cy="81.7" r="2.5" fill-opacity="0.144"/><circle cx="591.8" cy="85.3" r="2.5" fill-opacity="0.096"/><circle cx="591.8" cy="86.4" r="2.5" fill-opacity="0.088"/><circle cx="591.8" cy="90.6" r="2.5" fill-opacity="0.112"/><circle cx="591.8" cy="94.8" r="2.5" fill-opacity="0.103"/><circle cx="591.8" cy="97.3" r="2.5" fill-opacity="0.098"/><circle cx="591.8" cy="100.1" r="2.5" fill-opacity="0.080"/><circle cx="591.8" cy="102.3" r="2.5" fill-opacity="0.085"/><circle cx="591.8" cy="105.9" r="2.5" fill-opacity="0.080"/><circle cx="591.8" cy="110.1" r="2.5" fill-opacity="0.050"/><circle cx="591.8" cy="112.1" r="2.5" fill-opacity="0.045"/><circle cx="591.8" cy="116.5" r="2.5" fill-opacity="0.053"/><circle cx="591.8" cy="134" r="2.5" fill-opacity="0.080"/></g>
<line x1="445.00" y1="110.10" x2="445.00" y2="116.30" stroke="#111" stroke-width="1.0" />
<line x1="443.90" y1="110.10" x2="446.10" y2="110.10" stroke="#111" stroke-width="1.1" />
<line x1="443.90" y1="116.30" x2="446.10" y2="116.30" stroke="#111" stroke-width="1.1" />
<circle cx="445.00" cy="113.20" r="2.5" fill="#1b9e77" stroke="#1a1a1a" stroke-width="0.55"/>
<line x1="453.70" y1="111.20" x2="453.70" y2="117.40" stroke="#111" stroke-width="1.0" />
<line x1="452.60" y1="111.20" x2="454.80" y2="111.20" stroke="#111" stroke-width="1.1" />
<line x1="452.60" y1="117.40" x2="454.80" y2="117.40" stroke="#111" stroke-width="1.1" />
<circle cx="453.70" cy="114.30" r="2.5" fill="#d95f02" stroke="#1a1a1a" stroke-width="0.55"/>
<line x1="462.10" y1="108.60" x2="462.10" y2="114.80" stroke="#111" stroke-width="1.0" />
<line x1="461.00" y1="108.60" x2="463.20" y2="108.60" stroke="#111" stroke-width="1.1" />
<line x1="461.00" y1="114.80" x2="463.20" y2="114.80" stroke="#111" stroke-width="1.1" />
<circle cx="462.10" cy="111.70" r="2.5" fill="#7570b3" stroke="#1a1a1a" stroke-width="0.55"/>
<line x1="470.80" y1="97.90" x2="470.80" y2="104.10" stroke="#111" stroke-width="1.0" />
<line x1="469.70" y1="97.90" x2="471.90" y2="97.90" stroke="#111" stroke-width="1.1" />
<line x1="469.70" y1="104.10" x2="471.90" y2="104.10" stroke="#111" stroke-width="1.1" />
<circle cx="470.80" cy="101.00" r="2.5" fill="#e7298a" stroke="#1a1a1a" stroke-width="0.55"/>
<line x1="485.40" y1="100.60" x2="485.40" y2="106.80" stroke="#111" stroke-width="1.0" />
<line x1="484.30" y1="100.60" x2="486.50" y2="100.60" stroke="#111" stroke-width="1.1" />
<line x1="484.30" y1="106.80" x2="486.50" y2="106.80" stroke="#111" stroke-width="1.1" />
<circle cx="485.40" cy="103.70" r="2.5" fill="#1b9e77" stroke="#1a1a1a" stroke-width="0.55"/>
<line x1="494.00" y1="100.00" x2="494.00" y2="106.20" stroke="#111" stroke-width="1.0" />
<line x1="492.90" y1="100.00" x2="495.10" y2="100.00" stroke="#111" stroke-width="1.1" />
<line x1="492.90" y1="106.20" x2="495.10" y2="106.20" stroke="#111" stroke-width="1.1" />
<circle cx="494.00" cy="103.10" r="2.5" fill="#d95f02" stroke="#1a1a1a" stroke-width="0.55"/>
<line x1="502.60" y1="104.10" x2="502.60" y2="110.30" stroke="#111" stroke-width="1.0" />
<line x1="501.50" y1="104.10" x2="503.70" y2="104.10" stroke="#111" stroke-width="1.1" />
<line x1="501.50" y1="110.30" x2="503.70" y2="110.30" stroke="#111" stroke-width="1.1" />
<circle cx="502.60" cy="107.20" r="2.5" fill="#7570b3" stroke="#1a1a1a" stroke-width="0.55"/>
<line x1="511.20" y1="87.60" x2="511.20" y2="93.80" stroke="#111" stroke-width="1.0" />
<line x1="510.10" y1="87.60" x2="512.30" y2="87.60" stroke="#111" stroke-width="1.1" />
<line x1="510.10" y1="93.80" x2="512.30" y2="93.80" stroke="#111" stroke-width="1.1" />
<circle cx="511.20" cy="90.70" r="2.5" fill="#e7298a" stroke="#1a1a1a" stroke-width="0.55"/>
<line x1="525.70" y1="110.70" x2="525.70" y2="116.90" stroke="#111" stroke-width="1.0" />
<line x1="524.60" y1="110.70" x2="526.80" y2="110.70" stroke="#111" stroke-width="1.1" />
<line x1="524.60" y1="116.90" x2="526.80" y2="116.90" stroke="#111" stroke-width="1.1" />
<circle cx="525.70" cy="113.80" r="2.5" fill="#1b9e77" stroke="#1a1a1a" stroke-width="0.55"/>
<line x1="534.40" y1="111.90" x2="534.40" y2="118.10" stroke="#111" stroke-width="1.0" />
<line x1="533.30" y1="111.90" x2="535.50" y2="111.90" stroke="#111" stroke-width="1.1" />
<line x1="533.30" y1="118.10" x2="535.50" y2="118.10" stroke="#111" stroke-width="1.1" />
<circle cx="534.40" cy="115.00" r="2.5" fill="#d95f02" stroke="#1a1a1a" stroke-width="0.55"/>
<line x1="542.80" y1="110.70" x2="542.80" y2="116.90" stroke="#111" stroke-width="1.0" />
<line x1="541.70" y1="110.70" x2="543.90" y2="110.70" stroke="#111" stroke-width="1.1" />
<line x1="541.70" y1="116.90" x2="543.90" y2="116.90" stroke="#111" stroke-width="1.1" />
<circle cx="542.80" cy="113.80" r="2.5" fill="#7570b3" stroke="#1a1a1a" stroke-width="0.55"/>
<line x1="551.40" y1="97.90" x2="551.40" y2="104.10" stroke="#111" stroke-width="1.0" />
<line x1="550.30" y1="97.90" x2="552.50" y2="97.90" stroke="#111" stroke-width="1.1" />
<line x1="550.30" y1="104.10" x2="552.50" y2="104.10" stroke="#111" stroke-width="1.1" />
<circle cx="551.40" cy="101.00" r="2.5" fill="#e7298a" stroke="#1a1a1a" stroke-width="0.55"/>
<line x1="566.20" y1="90.50" x2="566.20" y2="96.70" stroke="#111" stroke-width="1.0" />
<line x1="565.10" y1="90.50" x2="567.30" y2="90.50" stroke="#111" stroke-width="1.1" />
<line x1="565.10" y1="96.70" x2="567.30" y2="96.70" stroke="#111" stroke-width="1.1" />
<circle cx="566.20" cy="93.60" r="2.5" fill="#1b9e77" stroke="#1a1a1a" stroke-width="0.55"/>
<line x1="574.60" y1="94.10" x2="574.60" y2="100.30" stroke="#111" stroke-width="1.0" />
<line x1="573.50" y1="94.10" x2="575.70" y2="94.10" stroke="#111" stroke-width="1.1" />
<line x1="573.50" y1="100.30" x2="575.70" y2="100.30" stroke="#111" stroke-width="1.1" />
<circle cx="574.60" cy="97.20" r="2.5" fill="#d95f02" stroke="#1a1a1a" stroke-width="0.55"/>
<line x1="583.30" y1="93.60" x2="583.30" y2="99.80" stroke="#111" stroke-width="1.0" />
<line x1="582.20" y1="93.60" x2="584.40" y2="93.60" stroke="#111" stroke-width="1.1" />
<line x1="582.20" y1="99.80" x2="584.40" y2="99.80" stroke="#111" stroke-width="1.1" />
<circle cx="583.30" cy="96.70" r="2.5" fill="#7570b3" stroke="#1a1a1a" stroke-width="0.55"/>
<line x1="591.80" y1="79.80" x2="591.80" y2="86.00" stroke="#111" stroke-width="1.0" />
<line x1="590.70" y1="79.80" x2="592.90" y2="79.80" stroke="#111" stroke-width="1.1" />
<line x1="590.70" y1="86.00" x2="592.90" y2="86.00" stroke="#111" stroke-width="1.1" />
<circle cx="591.80" cy="82.90" r="2.5" fill="#e7298a" stroke="#1a1a1a" stroke-width="0.55"/>
<text x="634.6" y="31" font-size="7.9" text-anchor="start" font-weight="bold" fill="#000" >Condition</text>
<line x1="634.50" y1="42.90" x2="639.80" y2="42.90" stroke="#1b9e77" stroke-width="1.8" />
<text x="642" y="46.3" font-size="9.8" text-anchor="start" font-weight="normal" fill="#000" >theta</text>
<line x1="634.50" y1="57.10" x2="639.80" y2="57.10" stroke="#d95f02" stroke-width="1.8" />
<text x="642" y="60.5" font-size="9.8" text-anchor="start" font-weight="normal" fill="#000" >alpha</text>
<line x1="634.50" y1="71.30" x2="639.80" y2="71.30" stroke="#7570b3" stroke-width="1.8" />
<text x="642" y="74.7" font-size="9.8" text-anchor="start" font-weight="normal" fill="#000" >control</text>
<line x1="634.50" y1="85.50" x2="639.80" y2="85.50" stroke="#e7298a" stroke-width="1.8" />
<text x="642" y="88.9" font-size="9.8" text-anchor="start" font-weight="normal" fill="#000" >NE</text>
<path d="M32.00,199.20 L32.00,296.00 L208.80,296.00" fill="none" stroke="#383838" stroke-width="1.3"/>
<line x1="32.00" y1="282.30" x2="34.00" y2="282.30" stroke="#383838" stroke-width="1.3" />
<text transform="translate(28.50,287.00) scale(1,1.2)" font-size="9.5" text-anchor="end" font-weight="bold" fill="#262626" stroke="#262626" stroke-width="0.22">0</text>
<line x1="32.00" y1="259.35" x2="34.00" y2="259.35" stroke="#383838" stroke-width="1.3" />
<text transform="translate(28.50,264.05) scale(1,1.2)" font-size="9.5" text-anchor="end" font-weight="bold" fill="#262626" stroke="#262626" stroke-width="0.22">1</text>
<line x1="32.00" y1="236.40" x2="34.00" y2="236.40" stroke="#383838" stroke-width="1.3" />
<text transform="translate(28.50,241.10) scale(1,1.2)" font-size="9.5" text-anchor="end" font-weight="bold" fill="#262626" stroke="#262626" stroke-width="0.22">2</text>
<line x1="32.00" y1="213.45" x2="34.00" y2="213.45" stroke="#383838" stroke-width="1.3" />
<text transform="translate(28.50,218.15) scale(1,1.2)" font-size="9.5" text-anchor="end" font-weight="bold" fill="#262626" stroke="#262626" stroke-width="0.22">3</text>
<line x1="65.15" y1="296.00" x2="65.15" y2="294.00" stroke="#383838" stroke-width="1.3" />
<text transform="translate(65.15,310.00) scale(1,1.2)" font-size="9.5" text-anchor="middle" font-weight="bold" fill="#262626" stroke="#262626" stroke-width="0.22">-2</text>
<line x1="120.40" y1="296.00" x2="120.40" y2="294.00" stroke="#383838" stroke-width="1.3" />
<text transform="translate(120.40,310.00) scale(1,1.2)" font-size="9.5" text-anchor="middle" font-weight="bold" fill="#262626" stroke="#262626" stroke-width="0.22">0</text>
<line x1="175.65" y1="296.00" x2="175.65" y2="294.00" stroke="#383838" stroke-width="1.3" />
<text transform="translate(175.65,310.00) scale(1,1.2)" font-size="9.5" text-anchor="middle" font-weight="bold" fill="#262626" stroke="#262626" stroke-width="0.22">2</text>
<line x1="32.00" y1="282.30" x2="208.00" y2="282.30" stroke="#b8b8b8" stroke-width="0.8" />
<polygon points="120.4,282.3 120.4,247.9 120.5,245.6 120.7,243.4 120.8,241.4 120.9,239.7 121,238.2 121.2,236.9 121.3,235.8 121.4,234.9 121.6,234 121.7,233.1 121.8,232.4 121.9,231.7 122.1,231.1 122.2,230.6 122.3,230.2 122.5,229.8 122.6,229.5 122.7,229.1 122.8,228.7 123,228.4 123.1,228.1 123.2,227.8 123.4,227.6 123.5,227.3 123.6,227.1 123.7,227 123.9,226.9 124,226.8 124.1,226.8 124.3,226.8 124.4,226.8 124.5,226.9 124.6,227.1 124.8,227.2 124.9,227.4 125,227.6 125.2,227.8 125.3,228 125.4,228.3 125.5,228.6 125.7,228.8 125.8,229.1 125.9,229.4 126.1,229.7 126.2,230 126.3,230.2 126.4,230.6 126.6,230.9 126.7,231.3 126.8,231.7 127,232.1 127.1,232.5 127.2,233 127.3,233.5 127.5,233.9 127.6,234.5 127.7,235 127.9,235.5 128,236.1 128.1,236.6 128.2,237.2 128.4,237.8 128.5,238.4 128.6,239.1 128.8,239.8 128.9,240.5 129,241.3 129.2,242.1 129.3,242.9 129.4,243.7 129.5,244.6 129.7,245.4 129.8,246.3 129.9,247.1 130.1,248 130.2,248.8 130.3,249.6 130.4,250.4 130.6,251.2 130.7,252 130.8,252.8 131,253.6 131.1,254.5 131.2,255.3 131.3,256.1 131.5,256.9 131.6,257.7 131.7,258.5 131.9,259.3 132,260.1 132.1,260.8 132.2,261.5 132.4,262.1 132.5,262.8 132.6,263.4 132.8,264 132.9,264.6 133,265.1 133.1,265.7 133.3,266.2 133.4,266.7 133.5,267.3 133.7,267.8 133.8,268.2 133.9,268.7 134,269.2 134.2,269.6 134.3,270.1 134.4,270.5 134.6,270.9 134.7,271.3 134.8,271.7 134.9,272.1 135.1,272.5 135.2,272.9 135.3,273.3 135.5,273.7 135.6,274.1 135.7,274.4 135.8,274.8 135.8,282.3" fill="#e3e3e3"/>
<line x1="127.31" y1="282.30" x2="127.31" y2="233.29" stroke="#666" stroke-width="1.35" stroke-dasharray="3.2,2.5"/>
<polyline points="37.5,282.3 119.4,282.3 119.6,274.9 119.7,268.3 119.8,262.8 120,258.2 120.1,254.2 120.3,250.8 120.4,247.9 120.5,245.4 120.7,243.1 120.8,241 121,239.2 121.1,237.7 121.2,236.4 121.4,235.3 121.5,234.3 121.6,233.4 121.8,232.6 121.9,231.9 122.1,231.2 122.2,230.7 122.3,230.2 122.5,229.8 122.6,229.4 122.7,229 122.9,228.6 123,228.3 123.2,228 123.3,227.7 123.4,227.4 123.6,227.2 123.7,227 123.9,226.9 124,226.8 124.4,226.8 124.5,227 124.7,227.1 124.8,227.3 125,227.5 125.1,227.7 125.2,227.9 125.4,228.2 125.5,228.5 125.6,228.8 125.8,229.1 125.9,229.4 126.1,229.7 126.2,230 126.3,230.3 126.5,230.6 126.6,231 126.8,231.4 126.9,231.8 127,232.3 127.2,232.8 127.3,233.3 127.4,233.8 127.6,234.4 127.7,234.9 127.9,235.5 128,236.1 128.1,236.7 128.3,237.3 128.4,237.9 128.5,238.6 128.7,239.3 128.8,240.1 129,240.9 129.1,241.8 129.2,242.7 129.4,243.5 129.5,244.5 129.7,245.4 129.8,246.3 129.9,247.2 130.1,248.1 130.2,249 130.3,249.8 130.5,250.7 130.6,251.5 130.8,252.4 130.9,253.3 131,254.2 131.2,255.1 131.3,255.9 131.4,256.8 131.6,257.7 131.7,258.5 131.9,259.4 132,260.2 132.1,260.9 132.3,261.7 132.4,262.4 132.6,263.1 132.7,263.7 132.8,264.3 133,264.9 133.1,265.5 133.2,266.1 133.4,266.7 133.5,267.2 133.7,267.8 133.8,268.3 133.9,268.8 134.1,269.3 134.2,269.8 134.4,270.3 134.5,270.7 134.6,271.1 134.8,271.6 134.9,272 135,272.4 135.2,272.9 135.3,273.3 135.5,273.7 135.6,274.1 135.7,274.5 135.9,274.9 136,275.2 136.1,275.6 136.3,276 136.4,276.3 136.6,276.6 136.7,276.9 136.8,277.2 137,277.5 137.1,277.7 137.3,278 137.4,278.2 137.5,278.4 137.7,278.6 137.8,278.7 137.9,278.9 138.1,279.1 138.2,279.2 138.4,279.4 138.5,279.6 138.6,279.7 138.8,279.9 138.9,280 139,280.1 139.2,280.2 139.3,280.4 139.5,280.5 139.6,280.6 139.7,280.7 139.9,280.8 140,280.8 140.2,280.9 140.3,281 140.4,281 140.6,281.1 140.7,281.2 140.8,281.2 141,281.3 141.1,281.4 141.3,281.4 141.4,281.5 141.5,281.5 141.7,281.6 141.8,281.6 141.9,281.7 142.1,281.7 142.2,281.8 142.4,281.8 142.5,281.9 142.8,281.9 142.9,282 143.3,282 143.5,282.1 144.4,282.1 144.6,282.2 146,282.2 146.1,282.3 203.3,282.3" fill="none" stroke="#d62a2a" stroke-width="2.25" stroke-linejoin="round"/>
<polyline points="37.5,281.8 38.1,281.7 38.6,281.7 39.2,281.7 39.7,281.7 40.3,281.7 40.8,281.7 41.4,281.7 41.9,281.7 42.5,281.7 43.1,281.7 43.6,281.7 44.2,281.7 44.7,281.7 45.3,281.6 45.8,281.6 46.4,281.6 46.9,281.6 47.5,281.6 48,281.6 48.6,281.6 49.1,281.6 49.7,281.6 50.2,281.6 50.8,281.5 51.3,281.5 51.9,281.5 52.4,281.5 53,281.5 53.5,281.5 54.1,281.5 54.7,281.5 55.2,281.4 55.8,281.4 56.3,281.4 56.9,281.4 57.4,281.4 58,281.4 58.5,281.4 59.1,281.3 59.6,281.3 60.2,281.3 60.7,281.3 61.3,281.3 61.8,281.3 62.4,281.2 62.9,281.2 63.5,281.2 64,281.2 64.6,281.2 65.2,281.2 65.7,281.1 66.3,281.1 66.8,281.1 67.4,281.1 67.9,281 68.5,281 69,281 69.6,281 70.1,280.9 70.7,280.9 71.2,280.9 71.8,280.9 72.3,280.8 72.9,280.8 73.4,280.8 74,280.7 74.5,280.7 75.1,280.7 75.6,280.6 76.2,280.6 76.8,280.6 77.3,280.5 77.9,280.5 78.4,280.5 79,280.4 79.5,280.4 80.1,280.3 80.6,280.3 81.2,280.2 81.7,280.2 82.3,280.2 82.8,280.1 83.4,280 83.9,280 84.5,279.9 85,279.9 85.6,279.8 86.1,279.8 86.7,279.7 87.2,279.6 87.8,279.6 88.4,279.5 88.9,279.4 89.5,279.4 90,279.3 90.6,279.2 91.1,279.1 91.7,279 92.2,278.9 92.8,278.9 93.3,278.8 93.9,278.7 94.4,278.6 95,278.5 95.5,278.4 96.1,278.2 96.6,278.1 97.2,278 97.7,277.9 98.3,277.8 98.9,277.6 99.4,277.5 100,277.4 100.5,277.2 101.1,277.1 101.6,276.9 102.2,276.8 102.7,276.6 103.3,276.5 103.8,276.3 104.4,276.1 104.9,276 105.5,275.8 106,275.6 106.6,275.4 107.1,275.2 107.7,275 108.2,274.9 108.8,274.7 109.4,274.5 109.9,274.3 110.5,274.1 111,273.9 111.6,273.7 112.1,273.5 112.7,273.4 113.2,273.2 113.8,273 114.3,272.9 114.9,272.7 115.4,272.6 116,272.5 116.5,272.4 117.1,272.3 117.6,272.2 118.2,272.1 118.7,272 119.3,272 119.8,272 120.4,272 121,272 121.5,272 122.1,272 122.6,272.1 123.2,272.2 123.7,272.3 124.3,272.4 124.8,272.5 125.4,272.6 125.9,272.7 126.5,272.9 127,273 127.6,273.2 128.1,273.4 128.7,273.5 129.2,273.7 129.8,273.9 130.3,274.1 130.9,274.3 131.4,274.5 132,274.7 132.6,274.9 133.1,275 133.7,275.2 134.2,275.4 134.8,275.6 135.3,275.8 135.9,276 136.4,276.1 137,276.3 137.5,276.5 138.1,276.6 138.6,276.8 139.2,276.9 139.7,277.1 140.3,277.2 140.8,277.4 141.4,277.5 141.9,277.6 142.5,277.8 143.1,277.9 143.6,278 144.2,278.1 144.7,278.2 145.3,278.4 145.8,278.5 146.4,278.6 146.9,278.7 147.5,278.8 148,278.9 148.6,278.9 149.1,279 149.7,279.1 150.2,279.2 150.8,279.3 151.3,279.4 151.9,279.4 152.4,279.5 153,279.6 153.6,279.6 154.1,279.7 154.7,279.8 155.2,279.8 155.8,279.9 156.3,279.9 156.9,280 157.4,280 158,280.1 158.5,280.2 159.1,280.2 159.6,280.2 160.2,280.3 160.7,280.3 161.3,280.4 161.8,280.4 162.4,280.5 162.9,280.5 163.5,280.5 164,280.6 164.6,280.6 165.2,280.6 165.7,280.7 166.3,280.7 166.8,280.7 167.4,280.8 167.9,280.8 168.5,280.8 169,280.9 169.6,280.9 170.1,280.9 170.7,280.9 171.2,281 171.8,281 172.3,281 172.9,281 173.4,281.1 174,281.1 174.5,281.1 175.1,281.1 175.7,281.2 176.2,281.2 176.8,281.2 177.3,281.2 177.9,281.2 178.4,281.2 179,281.3 179.5,281.3 180.1,281.3 180.6,281.3 181.2,281.3 181.7,281.3 182.3,281.4 182.8,281.4 183.4,281.4 183.9,281.4 184.5,281.4 185,281.4 185.6,281.4 186.1,281.5 186.7,281.5 187.3,281.5 187.8,281.5 188.4,281.5 188.9,281.5 189.5,281.5 190,281.5 190.6,281.6 191.1,281.6 191.7,281.6 192.2,281.6 192.8,281.6 193.3,281.6 193.9,281.6 194.4,281.6 195,281.6 195.5,281.6 196.1,281.7 196.6,281.7 197.2,281.7 197.8,281.7 198.3,281.7 198.9,281.7 199.4,281.7 200,281.7 200.5,281.7 201.1,281.7 201.6,281.7 202.2,281.7 202.7,281.7 203.3,281.8" fill="none" stroke="#3a7cb4" stroke-width="2.2" stroke-linejoin="round"/>
<text x="120.6" y="198" font-size="7" text-anchor="middle" font-weight="bold" fill="#000" >theta - control</text>
<text transform="translate(126.8,225) scale(1,1.22)" font-size="5.8" text-anchor="middle" fill="#333"><tspan font-family="Liberation Serif" font-style="italic">μ</tspan> = 0.25</text>
<line x1="120.40" y1="288.00" x2="135.84" y2="288.00" stroke="#555" stroke-width="1.8" />
<text transform="translate(119.1,290.3) scale(1,1.18)" font-size="5.8" text-anchor="end" fill="#4d4d4d">0</text>
<text transform="translate(137.1,290.3) scale(1,1.18)" font-size="5.8" text-anchor="start" fill="#4d4d4d">0.559</text>
<text transform="translate(19.30,247.90) rotate(-90)" font-size="10" text-anchor="middle" font-weight="bold" fill="#262626" stroke="#262626" stroke-width="0.2">Density</text>
<path d="M238.30,199.20 L238.30,296.00 L415.10,296.00" fill="none" stroke="#383838" stroke-width="1.3"/>
<line x1="238.30" y1="282.30" x2="240.30" y2="282.30" stroke="#383838" stroke-width="1.3" />
<text transform="translate(234.80,287.00) scale(1,1.2)" font-size="9.5" text-anchor="end" font-weight="bold" fill="#262626" stroke="#262626" stroke-width="0.22">0</text>
<line x1="238.30" y1="259.35" x2="240.30" y2="259.35" stroke="#383838" stroke-width="1.3" />
<text transform="translate(234.80,264.05) scale(1,1.2)" font-size="9.5" text-anchor="end" font-weight="bold" fill="#262626" stroke="#262626" stroke-width="0.22">1</text>
<line x1="238.30" y1="236.40" x2="240.30" y2="236.40" stroke="#383838" stroke-width="1.3" />
<text transform="translate(234.80,241.10) scale(1,1.2)" font-size="9.5" text-anchor="end" font-weight="bold" fill="#262626" stroke="#262626" stroke-width="0.22">2</text>
<line x1="238.30" y1="213.45" x2="240.30" y2="213.45" stroke="#383838" stroke-width="1.3" />
<text transform="translate(234.80,218.15) scale(1,1.2)" font-size="9.5" text-anchor="end" font-weight="bold" fill="#262626" stroke="#262626" stroke-width="0.22">3</text>
<line x1="271.45" y1="296.00" x2="271.45" y2="294.00" stroke="#383838" stroke-width="1.3" />
<text transform="translate(271.45,310.00) scale(1,1.2)" font-size="9.5" text-anchor="middle" font-weight="bold" fill="#262626" stroke="#262626" stroke-width="0.22">-2</text>
<line x1="326.70" y1="296.00" x2="326.70" y2="294.00" stroke="#383838" stroke-width="1.3" />
<text transform="translate(326.70,310.00) scale(1,1.2)" font-size="9.5" text-anchor="middle" font-weight="bold" fill="#262626" stroke="#262626" stroke-width="0.22">0</text>
<line x1="381.95" y1="296.00" x2="381.95" y2="294.00" stroke="#383838" stroke-width="1.3" />
<text transform="translate(381.95,310.00) scale(1,1.2)" font-size="9.5" text-anchor="middle" font-weight="bold" fill="#262626" stroke="#262626" stroke-width="0.22">2</text>
<line x1="238.30" y1="282.30" x2="414.30" y2="282.30" stroke="#b8b8b8" stroke-width="0.8" />
<polygon points="327.8,282.3 327.8,270.6 328,269.9 328.2,269.1 328.3,268.4 328.5,267.6 328.7,266.8 328.9,266.1 329.1,265.3 329.3,264.6 329.5,263.8 329.7,263 329.9,262.3 330.1,261.5 330.2,260.8 330.4,260 330.6,259.2 330.8,258.5 331,257.8 331.2,257.1 331.4,256.4 331.6,255.7 331.8,255 332,254.3 332.1,253.6 332.3,252.9 332.5,252.2 332.7,251.6 332.9,250.9 333.1,250.3 333.3,249.7 333.5,249.2 333.7,248.6 333.8,248 334,247.5 334.2,246.9 334.4,246.3 334.6,245.8 334.8,245.3 335,244.9 335.2,244.5 335.4,244.1 335.6,243.8 335.7,243.7 335.9,243.5 336.1,243.3 336.3,243.1 336.5,243 336.7,242.8 336.9,242.7 337.1,242.6 337.3,242.5 337.5,242.4 337.6,242.3 337.8,242.2 338,242.2 338.2,242.1 338.4,242.1 338.6,242.2 338.8,242.4 339,242.6 339.2,242.9 339.3,243.2 339.5,243.6 339.7,244 339.9,244.4 340.1,244.9 340.3,245.3 340.5,245.8 340.7,246.2 340.9,246.7 341.1,247.3 341.2,247.8 341.4,248.5 341.6,249.1 341.8,249.8 342,250.5 342.2,251.2 342.4,251.9 342.6,252.7 342.8,253.4 343,254.1 343.1,254.8 343.3,255.5 343.5,256.2 343.7,256.9 343.9,257.7 344.1,258.4 344.3,259.2 344.5,259.9 344.7,260.7 344.8,261.4 345,262.1 345.2,262.8 345.4,263.5 345.6,264.1 345.8,264.7 346,265.3 346.2,265.9 346.4,266.5 346.6,267.1 346.7,267.6 346.9,268.1 347.1,268.7 347.3,269.2 347.5,269.7 347.7,270.2 347.9,270.7 348.1,271.1 348.3,271.6 348.5,272 348.6,272.5 348.8,272.9 349,273.4 349.2,273.8 349.4,274.2 349.6,274.6 349.8,275.1 350,275.5 350.2,275.8 350.4,276.2 350.5,276.6 350.5,282.3" fill="#e3e3e3"/>
<line x1="339.41" y1="282.30" x2="339.41" y2="243.31" stroke="#666" stroke-width="1.35" stroke-dasharray="3.2,2.5"/>
<polyline points="243.8,282.3 325.6,282.3 325.7,280.6 325.9,278.9 326,277.6 326.1,276.6 326.3,275.9 326.4,275.3 326.6,274.8 326.7,274.4 326.8,274 327,273.6 327.1,273.1 327.3,272.7 327.4,272.1 327.5,271.6 327.7,271.1 327.8,270.5 327.9,270 328.1,269.4 328.2,268.9 328.4,268.3 328.5,267.8 328.6,267.2 328.8,266.6 328.9,266.1 329,265.5 329.2,265 329.3,264.4 329.5,263.9 329.6,263.3 329.7,262.8 329.9,262.2 330,261.7 330.2,261.1 330.3,260.6 330.4,260 330.6,259.5 330.7,258.9 330.8,258.4 331,257.9 331.1,257.3 331.3,256.8 331.4,256.3 331.5,255.8 331.7,255.3 331.8,254.8 331.9,254.3 332.1,253.8 332.2,253.3 332.4,252.8 332.5,252.3 332.6,251.8 332.8,251.3 332.9,250.9 333.1,250.4 333.2,250 333.3,249.6 333.5,249.2 333.6,248.8 333.7,248.3 333.9,247.9 334,247.5 334.2,247.1 334.3,246.7 334.4,246.3 334.6,245.9 334.7,245.5 334.8,245.2 335,244.8 335.1,244.6 335.3,244.3 335.4,244.1 335.5,243.9 335.7,243.7 335.8,243.6 336,243.5 336.1,243.3 336.2,243.2 336.4,243.1 336.5,243 336.6,242.9 336.8,242.8 336.9,242.7 337.1,242.6 337.2,242.5 337.3,242.4 337.5,242.3 337.6,242.3 337.8,242.2 338,242.2 338.2,242.1 338.4,242.1 338.6,242.2 338.7,242.3 338.9,242.4 339,242.6 339.1,242.8 339.3,243.1 339.4,243.3 339.5,243.6 339.7,243.9 339.8,244.2 340,244.5 340.1,244.8 340.2,245.2 340.4,245.5 340.5,245.8 340.7,246.1 340.8,246.5 340.9,246.9 341.1,247.3 341.2,247.7 341.3,248.2 341.5,248.6 341.6,249.1 341.8,249.6 341.9,250.1 342,250.6 342.2,251.1 342.3,251.7 342.4,252.2 342.6,252.7 342.7,253.2 342.9,253.8 343,254.3 343.1,254.8 343.3,255.3 343.4,255.8 343.6,256.3 343.7,256.8 343.8,257.4 344,257.9 344.1,258.5 344.2,259 344.4,259.6 344.5,260.1 344.7,260.6 344.8,261.2 344.9,261.7 345.1,262.2 345.2,262.7 345.3,263.2 345.5,263.7 345.6,264.2 345.8,264.6 345.9,265.1 346,265.5 346.2,265.9 346.3,266.3 346.5,266.7 346.6,267.2 346.7,267.6 346.9,267.9 347,268.3 347.1,268.7 347.3,269.1 347.4,269.5 347.6,269.8 347.7,270.2 347.8,270.5 348,270.9 348.1,271.2 348.2,271.6 348.4,271.9 348.5,272.2 348.7,272.5 348.8,272.8 348.9,273.2 349.1,273.5 349.2,273.8 349.4,274.1 349.5,274.4 349.6,274.7 349.8,275 349.9,275.3 350,275.6 350.2,275.9 350.3,276.2 350.5,276.4 350.6,276.7 350.7,276.9 350.9,277.1 351,277.3 351.1,277.5 351.3,277.7 351.4,277.9 351.6,278 351.7,278.2 351.8,278.4 352,278.5 352.1,278.7 352.3,278.8 352.4,278.9 352.5,279.1 352.7,279.2 352.8,279.3 352.9,279.5 353.1,279.6 353.2,279.7 353.4,279.8 353.5,279.9 353.6,280 353.8,280.1 353.9,280.2 354,280.3 354.2,280.4 354.3,280.5 354.5,280.5 354.6,280.6 354.7,280.7 354.9,280.8 355,280.9 355.2,280.9 355.3,281 355.4,281.1 355.6,281.2 355.7,281.2 355.8,281.3 356,281.4 356.1,281.4 356.3,281.5 356.4,281.6 356.5,281.6 356.7,281.7 356.8,281.8 356.9,281.8 357.1,281.9 357.2,281.9 357.4,282 357.5,282 357.6,282.1 357.9,282.1 358.1,282.2 358.3,282.2 358.5,282.3 409.6,282.3" fill="none" stroke="#d62a2a" stroke-width="2.25" stroke-linejoin="round"/>
<polyline points="243.8,281.8 244.4,281.7 244.9,281.7 245.5,281.7 246,281.7 246.6,281.7 247.1,281.7 247.7,281.7 248.2,281.7 248.8,281.7 249.4,281.7 249.9,281.7 250.5,281.7 251,281.7 251.6,281.6 252.1,281.6 252.7,281.6 253.2,281.6 253.8,281.6 254.3,281.6 254.9,281.6 255.4,281.6 256,281.6 256.5,281.6 257.1,281.5 257.6,281.5 258.2,281.5 258.7,281.5 259.3,281.5 259.8,281.5 260.4,281.5 261,281.5 261.5,281.4 262.1,281.4 262.6,281.4 263.2,281.4 263.7,281.4 264.3,281.4 264.8,281.4 265.4,281.3 265.9,281.3 266.5,281.3 267,281.3 267.6,281.3 268.1,281.3 268.7,281.2 269.2,281.2 269.8,281.2 270.3,281.2 270.9,281.2 271.5,281.2 272,281.1 272.6,281.1 273.1,281.1 273.7,281.1 274.2,281 274.8,281 275.3,281 275.9,281 276.4,280.9 277,280.9 277.5,280.9 278.1,280.9 278.6,280.8 279.2,280.8 279.7,280.8 280.3,280.7 280.8,280.7 281.4,280.7 281.9,280.6 282.5,280.6 283.1,280.6 283.6,280.5 284.2,280.5 284.7,280.5 285.3,280.4 285.8,280.4 286.4,280.3 286.9,280.3 287.5,280.2 288,280.2 288.6,280.2 289.1,280.1 289.7,280 290.2,280 290.8,279.9 291.3,279.9 291.9,279.8 292.4,279.8 293,279.7 293.6,279.6 294.1,279.6 294.7,279.5 295.2,279.4 295.8,279.4 296.3,279.3 296.9,279.2 297.4,279.1 298,279 298.5,278.9 299.1,278.9 299.6,278.8 300.2,278.7 300.7,278.6 301.3,278.5 301.8,278.4 302.4,278.2 302.9,278.1 303.5,278 304,277.9 304.6,277.8 305.2,277.6 305.7,277.5 306.3,277.4 306.8,277.2 307.4,277.1 307.9,276.9 308.5,276.8 309,276.6 309.6,276.5 310.1,276.3 310.7,276.1 311.2,276 311.8,275.8 312.3,275.6 312.9,275.4 313.4,275.2 314,275 314.5,274.9 315.1,274.7 315.7,274.5 316.2,274.3 316.8,274.1 317.3,273.9 317.9,273.7 318.4,273.5 319,273.4 319.5,273.2 320.1,273 320.6,272.9 321.2,272.7 321.7,272.6 322.3,272.5 322.8,272.4 323.4,272.3 323.9,272.2 324.5,272.1 325,272 325.6,272 326.1,272 326.7,272 327.3,272 327.8,272 328.4,272 328.9,272.1 329.5,272.2 330,272.3 330.6,272.4 331.1,272.5 331.7,272.6 332.2,272.7 332.8,272.9 333.3,273 333.9,273.2 334.4,273.4 335,273.5 335.5,273.7 336.1,273.9 336.6,274.1 337.2,274.3 337.8,274.5 338.3,274.7 338.9,274.9 339.4,275 340,275.2 340.5,275.4 341.1,275.6 341.6,275.8 342.2,276 342.7,276.1 343.3,276.3 343.8,276.5 344.4,276.6 344.9,276.8 345.5,276.9 346,277.1 346.6,277.2 347.1,277.4 347.7,277.5 348.2,277.6 348.8,277.8 349.4,277.9 349.9,278 350.5,278.1 351,278.2 351.6,278.4 352.1,278.5 352.7,278.6 353.2,278.7 353.8,278.8 354.3,278.9 354.9,278.9 355.4,279 356,279.1 356.5,279.2 357.1,279.3 357.6,279.4 358.2,279.4 358.7,279.5 359.3,279.6 359.9,279.6 360.4,279.7 361,279.8 361.5,279.8 362.1,279.9 362.6,279.9 363.2,280 363.7,280 364.3,280.1 364.8,280.2 365.4,280.2 365.9,280.2 366.5,280.3 367,280.3 367.6,280.4 368.1,280.4 368.7,280.5 369.2,280.5 369.8,280.5 370.3,280.6 370.9,280.6 371.5,280.6 372,280.7 372.6,280.7 373.1,280.7 373.7,280.8 374.2,280.8 374.8,280.8 375.3,280.9 375.9,280.9 376.4,280.9 377,280.9 377.5,281 378.1,281 378.6,281 379.2,281 379.7,281.1 380.3,281.1 380.8,281.1 381.4,281.1 382,281.2 382.5,281.2 383.1,281.2 383.6,281.2 384.2,281.2 384.7,281.2 385.3,281.3 385.8,281.3 386.4,281.3 386.9,281.3 387.5,281.3 388,281.3 388.6,281.4 389.1,281.4 389.7,281.4 390.2,281.4 390.8,281.4 391.3,281.4 391.9,281.4 392.4,281.5 393,281.5 393.6,281.5 394.1,281.5 394.7,281.5 395.2,281.5 395.8,281.5 396.3,281.5 396.9,281.6 397.4,281.6 398,281.6 398.5,281.6 399.1,281.6 399.6,281.6 400.2,281.6 400.7,281.6 401.3,281.6 401.8,281.6 402.4,281.7 402.9,281.7 403.5,281.7 404.1,281.7 404.6,281.7 405.2,281.7 405.7,281.7 406.3,281.7 406.8,281.7 407.4,281.7 407.9,281.7 408.5,281.7 409,281.7 409.6,281.8" fill="none" stroke="#3a7cb4" stroke-width="2.2" stroke-linejoin="round"/>
<text x="326.9" y="198" font-size="7" text-anchor="middle" font-weight="bold" fill="#000" >alpha - control</text>
<text transform="translate(338.9,235.8) scale(1,1.22)" font-size="5.8" text-anchor="middle" fill="#333"><tspan font-family="Liberation Serif" font-style="italic">μ</tspan> = 0.46</text>
<line x1="327.78" y1="288.00" x2="350.54" y2="288.00" stroke="#555" stroke-width="1.8" />
<text transform="translate(326.5,290.3) scale(1,1.18)" font-size="5.8" text-anchor="end" fill="#4d4d4d">0.039</text>
<text transform="translate(351.8,290.3) scale(1,1.18)" font-size="5.8" text-anchor="start" fill="#4d4d4d">0.863</text>
<path d="M451.60,199.20 L451.60,296.00 L628.40,296.00" fill="none" stroke="#383838" stroke-width="1.3"/>
<line x1="451.60" y1="282.30" x2="453.60" y2="282.30" stroke="#383838" stroke-width="1.3" />
<text transform="translate(448.10,287.00) scale(1,1.2)" font-size="9.5" text-anchor="end" font-weight="bold" fill="#262626" stroke="#262626" stroke-width="0.22">0</text>
<line x1="451.60" y1="259.35" x2="453.60" y2="259.35" stroke="#383838" stroke-width="1.3" />
<text transform="translate(448.10,264.05) scale(1,1.2)" font-size="9.5" text-anchor="end" font-weight="bold" fill="#262626" stroke="#262626" stroke-width="0.22">1</text>
<line x1="451.60" y1="236.40" x2="453.60" y2="236.40" stroke="#383838" stroke-width="1.3" />
<text transform="translate(448.10,241.10) scale(1,1.2)" font-size="9.5" text-anchor="end" font-weight="bold" fill="#262626" stroke="#262626" stroke-width="0.22">2</text>
<line x1="451.60" y1="213.45" x2="453.60" y2="213.45" stroke="#383838" stroke-width="1.3" />
<text transform="translate(448.10,218.15) scale(1,1.2)" font-size="9.5" text-anchor="end" font-weight="bold" fill="#262626" stroke="#262626" stroke-width="0.22">3</text>
<line x1="484.75" y1="296.00" x2="484.75" y2="294.00" stroke="#383838" stroke-width="1.3" />
<text transform="translate(484.75,310.00) scale(1,1.2)" font-size="9.5" text-anchor="middle" font-weight="bold" fill="#262626" stroke="#262626" stroke-width="0.22">-2</text>
<line x1="540.00" y1="296.00" x2="540.00" y2="294.00" stroke="#383838" stroke-width="1.3" />
<text transform="translate(540.00,310.00) scale(1,1.2)" font-size="9.5" text-anchor="middle" font-weight="bold" fill="#262626" stroke="#262626" stroke-width="0.22">0</text>
<line x1="595.25" y1="296.00" x2="595.25" y2="294.00" stroke="#383838" stroke-width="1.3" />
<text transform="translate(595.25,310.00) scale(1,1.2)" font-size="9.5" text-anchor="middle" font-weight="bold" fill="#262626" stroke="#262626" stroke-width="0.22">2</text>
<line x1="451.60" y1="282.30" x2="627.60" y2="282.30" stroke="#b8b8b8" stroke-width="0.8" />
<polygon points="519.9,282.3 519.9,274.2 520.1,273.8 520.3,273.3 520.5,272.9 520.7,272.4 520.9,271.9 521.1,271.4 521.3,270.9 521.5,270.4 521.7,269.9 521.9,269.3 522.2,268.8 522.4,268.3 522.6,267.7 522.8,267.2 523,266.6 523.2,266 523.4,265.4 523.6,264.7 523.8,264.1 524,263.4 524.2,262.8 524.4,262.1 524.6,261.4 524.8,260.7 525,260.1 525.2,259.4 525.4,258.7 525.6,258.1 525.8,257.4 526,256.7 526.2,256 526.4,255.4 526.6,254.7 526.8,254 527,253.3 527.2,252.6 527.4,251.9 527.6,251.3 527.8,250.6 528,250 528.3,249.3 528.5,248.6 528.7,247.8 528.9,247.1 529.1,246.4 529.3,245.7 529.5,245.1 529.7,244.5 529.9,244 530.1,243.6 530.3,243.3 530.5,243 530.7,242.7 530.9,242.4 531.1,242.1 531.3,241.9 531.5,241.7 531.7,241.5 531.9,241.3 532.1,241.1 532.3,241.1 532.5,241 532.7,241 532.9,241.1 533.1,241.2 533.3,241.4 533.5,241.6 533.7,241.9 533.9,242.2 534.1,242.5 534.3,242.9 534.6,243.3 534.8,243.7 535,244.1 535.2,244.5 535.4,245 535.6,245.5 535.8,246.1 536,246.8 536.2,247.5 536.4,248.2 536.6,248.9 536.8,249.7 537,250.4 537.2,251.2 537.4,251.9 537.6,252.7 537.8,253.4 538,254.3 538.2,255.1 538.4,255.9 538.6,256.7 538.8,257.6 539,258.4 539.2,259.2 539.4,260 539.6,260.8 539.8,261.5 540,262.3 540.2,263.1 540.4,263.9 540.7,264.7 540.9,265.5 541.1,266.3 541.3,267 541.5,267.7 541.7,268.4 541.9,269.1 542.1,269.7 542.3,270.3 542.5,270.8 542.7,271.4 542.9,271.9 543.1,272.4 543.3,273 543.5,273.5 543.7,273.9 543.9,274.4 544.1,274.8 544.3,275.2 544.3,282.3" fill="#e3e3e3"/>
<line x1="532.26" y1="282.30" x2="532.26" y2="241.07" stroke="#666" stroke-width="1.35" stroke-dasharray="3.2,2.5"/>
<polyline points="457.1,282.3 508.2,282.3 508.4,282.2 509.2,282.2 509.3,282.1 509.9,282.1 510,282 510.4,282 510.6,281.9 511,281.9 511.1,281.8 511.4,281.8 511.5,281.7 511.8,281.7 512,281.6 512.2,281.6 512.4,281.5 512.5,281.5 512.7,281.4 512.9,281.4 513.1,281.3 513.2,281.3 513.3,281.2 513.5,281.2 513.6,281.1 513.9,281.1 514,281 514.2,281 514.3,280.9 514.4,280.9 514.6,280.8 514.7,280.7 514.9,280.7 515,280.6 515.1,280.6 515.3,280.5 515.4,280.5 515.6,280.4 515.7,280.4 515.8,280.3 516,280.2 516.1,280.2 516.2,280.1 516.4,280 516.5,279.8 516.7,279.7 516.8,279.6 516.9,279.4 517.1,279.2 517.2,279 517.3,278.8 517.5,278.6 517.6,278.4 517.8,278.2 517.9,277.9 518,277.7 518.2,277.4 518.3,277.2 518.5,276.9 518.6,276.7 518.7,276.4 518.9,276.2 519,275.9 519.1,275.7 519.3,275.4 519.4,275.2 519.6,274.9 519.7,274.6 519.8,274.4 520,274.1 520.1,273.8 520.2,273.5 520.4,273.2 520.5,272.9 520.7,272.5 520.8,272.2 520.9,271.9 521.1,271.6 521.2,271.2 521.4,270.9 521.5,270.5 521.6,270.2 521.8,269.8 521.9,269.5 522,269.1 522.2,268.7 522.3,268.4 522.5,268 522.6,267.6 522.7,267.2 522.9,266.8 523,266.4 523.1,266 523.3,265.6 523.4,265.2 523.6,264.8 523.7,264.3 523.8,263.9 524,263.4 524.1,263 524.3,262.5 524.4,262.1 524.5,261.6 524.7,261.2 524.8,260.7 524.9,260.2 525.1,259.8 525.2,259.3 525.4,258.9 525.5,258.4 525.6,258 525.8,257.5 525.9,257.1 526,256.6 526.2,256.1 526.3,255.7 526.5,255.2 526.6,254.8 526.7,254.3 526.9,253.8 527,253.4 527.2,252.9 527.3,252.4 527.4,252 527.6,251.5 527.7,251.1 527.8,250.6 528,250.2 528.1,249.7 528.3,249.2 528.4,248.8 528.5,248.3 528.7,247.8 528.8,247.3 529,246.8 529.1,246.3 529.2,245.8 529.4,245.4 529.5,245 529.6,244.6 529.8,244.2 529.9,243.9 530.1,243.7 530.2,243.4 530.3,243.2 530.5,243 530.6,242.8 530.7,242.6 530.9,242.4 531,242.2 531.2,242 531.3,241.9 531.4,241.7 531.6,241.6 531.7,241.4 531.9,241.3 532,241.2 532.1,241.1 532.3,241.1 532.4,241 532.8,241 533,241.1 533.1,241.2 533.2,241.3 533.4,241.4 533.5,241.6 533.6,241.7 533.8,241.9 533.9,242.2 534.1,242.4 534.2,242.6 534.3,242.9 534.5,243.1 534.6,243.4 534.8,243.7 534.9,243.9 535,244.2 535.2,244.5 535.3,244.8 535.4,245.2 535.6,245.5 535.7,246 535.9,246.4 536,246.8 536.1,247.3 536.3,247.8 536.4,248.3 536.5,248.8 536.7,249.3 536.8,249.8 537,250.3 537.1,250.8 537.2,251.3 537.4,251.8 537.5,252.3 537.7,252.9 537.8,253.4 537.9,253.9 538.1,254.5 538.2,255 538.3,255.6 538.5,256.2 538.6,256.7 538.8,257.3 538.9,257.9 539,258.4 539.2,259 539.3,259.5 539.4,260 539.6,260.6 539.7,261.1 539.9,261.6 540,262.2 540.1,262.7 540.3,263.3 540.4,263.8 540.6,264.3 540.7,264.9 540.8,265.4 541,265.9 541.1,266.4 541.2,266.9 541.4,267.4 541.5,267.9 541.7,268.4 541.8,268.8 541.9,269.3 542.1,269.7 542.2,270.1 542.3,270.5 542.5,270.8 542.6,271.2 542.8,271.6 542.9,272 543,272.3 543.2,272.7 543.3,273 543.5,273.4 543.6,273.7 543.7,274 543.9,274.3 544,274.6 544.1,274.9 544.3,275.2 544.4,275.5 544.6,275.7 544.7,276 544.8,276.2 545,276.4 545.1,276.6 545.2,276.9 545.4,277.1 545.5,277.3 545.7,277.5 545.8,277.7 545.9,277.9 546.1,278.1 546.2,278.3 546.4,278.4 546.5,278.6 546.6,278.8 546.8,279 546.9,279.1 547,279.3 547.2,279.4 547.3,279.5 547.5,279.7 547.6,279.8 547.7,279.9 547.9,280 548,280.1 548.1,280.2 548.3,280.3 548.4,280.4 548.6,280.5 548.7,280.5 548.8,280.6 549,280.7 549.1,280.8 549.3,280.9 549.4,280.9 549.5,281 549.7,281.1 549.8,281.1 549.9,281.2 550.1,281.2 550.2,281.3 550.4,281.4 550.5,281.4 550.6,281.5 550.8,281.5 550.9,281.6 551.2,281.6 551.3,281.7 551.6,281.7 551.7,281.8 552.2,281.8 552.3,281.9 553.1,281.9 553.3,282 554.1,282 554.2,282.1 555.3,282.1 555.5,282.2 557,282.2 557.1,282.3 622.9,282.3" fill="none" stroke="#d62a2a" stroke-width="2.25" stroke-linejoin="round"/>
<polyline points="457.1,281.8 457.7,281.7 458.2,281.7 458.8,281.7 459.3,281.7 459.9,281.7 460.4,281.7 461,281.7 461.5,281.7 462.1,281.7 462.6,281.7 463.2,281.7 463.8,281.7 464.3,281.7 464.9,281.6 465.4,281.6 466,281.6 466.5,281.6 467.1,281.6 467.6,281.6 468.2,281.6 468.7,281.6 469.3,281.6 469.8,281.6 470.4,281.5 470.9,281.5 471.5,281.5 472,281.5 472.6,281.5 473.1,281.5 473.7,281.5 474.3,281.5 474.8,281.4 475.4,281.4 475.9,281.4 476.5,281.4 477,281.4 477.6,281.4 478.1,281.4 478.7,281.3 479.2,281.3 479.8,281.3 480.3,281.3 480.9,281.3 481.4,281.3 482,281.2 482.5,281.2 483.1,281.2 483.6,281.2 484.2,281.2 484.8,281.2 485.3,281.1 485.9,281.1 486.4,281.1 487,281.1 487.5,281 488.1,281 488.6,281 489.2,281 489.7,280.9 490.3,280.9 490.8,280.9 491.4,280.9 491.9,280.8 492.5,280.8 493,280.8 493.6,280.7 494.1,280.7 494.7,280.7 495.2,280.6 495.8,280.6 496.4,280.6 496.9,280.5 497.5,280.5 498,280.5 498.6,280.4 499.1,280.4 499.7,280.3 500.2,280.3 500.8,280.2 501.3,280.2 501.9,280.2 502.4,280.1 503,280 503.5,280 504.1,279.9 504.6,279.9 505.2,279.8 505.7,279.8 506.3,279.7 506.9,279.6 507.4,279.6 508,279.5 508.5,279.4 509.1,279.4 509.6,279.3 510.2,279.2 510.7,279.1 511.3,279 511.8,278.9 512.4,278.9 512.9,278.8 513.5,278.7 514,278.6 514.6,278.5 515.1,278.4 515.7,278.2 516.2,278.1 516.8,278 517.3,277.9 517.9,277.8 518.5,277.6 519,277.5 519.6,277.4 520.1,277.2 520.7,277.1 521.2,276.9 521.8,276.8 522.3,276.6 522.9,276.5 523.4,276.3 524,276.1 524.5,276 525.1,275.8 525.6,275.6 526.2,275.4 526.7,275.2 527.3,275 527.8,274.9 528.4,274.7 529,274.5 529.5,274.3 530.1,274.1 530.6,273.9 531.2,273.7 531.7,273.5 532.3,273.4 532.8,273.2 533.4,273 533.9,272.9 534.5,272.7 535,272.6 535.6,272.5 536.1,272.4 536.7,272.3 537.2,272.2 537.8,272.1 538.3,272 538.9,272 539.4,272 540,272 540.6,272 541.1,272 541.7,272 542.2,272.1 542.8,272.2 543.3,272.3 543.9,272.4 544.4,272.5 545,272.6 545.5,272.7 546.1,272.9 546.6,273 547.2,273.2 547.7,273.4 548.3,273.5 548.8,273.7 549.4,273.9 549.9,274.1 550.5,274.3 551,274.5 551.6,274.7 552.2,274.9 552.7,275 553.3,275.2 553.8,275.4 554.4,275.6 554.9,275.8 555.5,276 556,276.1 556.6,276.3 557.1,276.5 557.7,276.6 558.2,276.8 558.8,276.9 559.3,277.1 559.9,277.2 560.4,277.4 561,277.5 561.5,277.6 562.1,277.8 562.7,277.9 563.2,278 563.8,278.1 564.3,278.2 564.9,278.4 565.4,278.5 566,278.6 566.5,278.7 567.1,278.8 567.6,278.9 568.2,278.9 568.7,279 569.3,279.1 569.8,279.2 570.4,279.3 570.9,279.4 571.5,279.4 572,279.5 572.6,279.6 573.1,279.6 573.7,279.7 574.3,279.8 574.8,279.8 575.4,279.9 575.9,279.9 576.5,280 577,280 577.6,280.1 578.1,280.2 578.7,280.2 579.2,280.2 579.8,280.3 580.3,280.3 580.9,280.4 581.4,280.4 582,280.5 582.5,280.5 583.1,280.5 583.6,280.6 584.2,280.6 584.8,280.6 585.3,280.7 585.9,280.7 586.4,280.7 587,280.8 587.5,280.8 588.1,280.8 588.6,280.9 589.2,280.9 589.7,280.9 590.3,280.9 590.8,281 591.4,281 591.9,281 592.5,281 593,281.1 593.6,281.1 594.1,281.1 594.7,281.1 595.2,281.2 595.8,281.2 596.4,281.2 596.9,281.2 597.5,281.2 598,281.2 598.6,281.3 599.1,281.3 599.7,281.3 600.2,281.3 600.8,281.3 601.3,281.3 601.9,281.4 602.4,281.4 603,281.4 603.5,281.4 604.1,281.4 604.6,281.4 605.2,281.4 605.7,281.5 606.3,281.5 606.9,281.5 607.4,281.5 608,281.5 608.5,281.5 609.1,281.5 609.6,281.5 610.2,281.6 610.7,281.6 611.3,281.6 611.8,281.6 612.4,281.6 612.9,281.6 613.5,281.6 614,281.6 614.6,281.6 615.1,281.6 615.7,281.7 616.2,281.7 616.8,281.7 617.4,281.7 617.9,281.7 618.5,281.7 619,281.7 619.6,281.7 620.1,281.7 620.7,281.7 621.2,281.7 621.8,281.7 622.3,281.7 622.9,281.8" fill="none" stroke="#3a7cb4" stroke-width="2.2" stroke-linejoin="round"/>
<text x="540.2" y="198" font-size="7" text-anchor="middle" font-weight="bold" fill="#000" >theta - alpha</text>
<text transform="translate(531.8,234.8) scale(1,1.22)" font-size="5.8" text-anchor="middle" fill="#333"><tspan font-family="Liberation Serif" font-style="italic">μ</tspan> = -0.28</text>
<line x1="519.92" y1="288.00" x2="544.31" y2="288.00" stroke="#555" stroke-width="1.8" />
<text transform="translate(518.6,290.3) scale(1,1.18)" font-size="5.8" text-anchor="end" fill="#4d4d4d">-0.727</text>
<text transform="translate(545.6,290.3) scale(1,1.18)" font-size="5.8" text-anchor="start" fill="#4d4d4d">0.156</text>
<path d="M32.00,333.20 L32.00,430.00 L208.80,430.00" fill="none" stroke="#383838" stroke-width="1.3"/>
<line x1="32.00" y1="416.30" x2="34.00" y2="416.30" stroke="#383838" stroke-width="1.3" />
<text transform="translate(28.50,421.00) scale(1,1.2)" font-size="9.5" text-anchor="end" font-weight="bold" fill="#262626" stroke="#262626" stroke-width="0.22">0</text>
<line x1="32.00" y1="393.35" x2="34.00" y2="393.35" stroke="#383838" stroke-width="1.3" />
<text transform="translate(28.50,398.05) scale(1,1.2)" font-size="9.5" text-anchor="end" font-weight="bold" fill="#262626" stroke="#262626" stroke-width="0.22">1</text>
<line x1="32.00" y1="370.40" x2="34.00" y2="370.40" stroke="#383838" stroke-width="1.3" />
<text transform="translate(28.50,375.10) scale(1,1.2)" font-size="9.5" text-anchor="end" font-weight="bold" fill="#262626" stroke="#262626" stroke-width="0.22">2</text>
<line x1="32.00" y1="347.45" x2="34.00" y2="347.45" stroke="#383838" stroke-width="1.3" />
<text transform="translate(28.50,352.15) scale(1,1.2)" font-size="9.5" text-anchor="end" font-weight="bold" fill="#262626" stroke="#262626" stroke-width="0.22">3</text>
<line x1="65.15" y1="430.00" x2="65.15" y2="428.00" stroke="#383838" stroke-width="1.3" />
<text transform="translate(65.15,444.00) scale(1,1.2)" font-size="9.5" text-anchor="middle" font-weight="bold" fill="#262626" stroke="#262626" stroke-width="0.22">-2</text>
<line x1="120.40" y1="430.00" x2="120.40" y2="428.00" stroke="#383838" stroke-width="1.3" />
<text transform="translate(120.40,444.00) scale(1,1.2)" font-size="9.5" text-anchor="middle" font-weight="bold" fill="#262626" stroke="#262626" stroke-width="0.22">0</text>
<line x1="175.65" y1="430.00" x2="175.65" y2="428.00" stroke="#383838" stroke-width="1.3" />
<text transform="translate(175.65,444.00) scale(1,1.2)" font-size="9.5" text-anchor="middle" font-weight="bold" fill="#262626" stroke="#262626" stroke-width="0.22">2</text>
<line x1="32.00" y1="416.30" x2="208.00" y2="416.30" stroke="#b8b8b8" stroke-width="0.8" />
<polygon points="120.4,416.3 120.4,363.5 120.5,360.6 120.6,357.9 120.7,355.4 120.8,353.1 120.9,351 121,349 121.1,347.1 121.2,345.2 121.3,343.1 121.4,341.2 121.5,339.4 121.6,338.1 121.7,337.3 121.8,337.1 121.9,337.2 122,337.3 122.1,337.4 122.2,337.6 122.3,337.9 122.4,338.1 122.5,338.4 122.6,338.7 122.7,339.1 122.8,339.4 122.9,339.8 123,340.1 123.1,340.5 123.2,340.8 123.3,341.2 123.4,341.6 123.5,342 123.6,342.5 123.7,343 123.8,343.5 123.9,344.1 124,344.6 124.1,345.2 124.2,345.8 124.3,346.3 124.4,346.9 124.5,347.5 124.6,348 124.7,348.6 124.8,349.2 124.9,349.9 125,350.5 125.1,351.1 125.3,351.8 125.4,352.4 125.5,353.1 125.6,353.8 125.7,354.5 125.8,355.2 125.9,355.8 126,356.5 126.1,357.2 126.2,357.9 126.3,358.6 126.4,359.3 126.5,360 126.6,360.7 126.7,361.4 126.8,362.1 126.9,362.8 127,363.5 127.1,364.2 127.2,364.9 127.3,365.6 127.4,366.3 127.5,367 127.6,367.7 127.7,368.5 127.8,369.2 127.9,369.9 128,370.6 128.1,371.4 128.2,372.1 128.3,372.8 128.4,373.6 128.5,374.3 128.6,375.1 128.7,375.8 128.8,376.5 128.9,377.3 129,378 129.1,378.8 129.2,379.5 129.3,380.3 129.4,381.1 129.5,381.8 129.6,382.6 129.7,383.4 129.8,384.2 129.9,385 130,385.8 130.1,386.6 130.2,387.4 130.3,388.2 130.4,389 130.5,389.8 130.6,390.6 130.7,391.3 130.8,392.1 130.9,392.8 131,393.5 131.1,394.2 131.2,394.9 131.3,395.5 131.4,396.2 131.5,396.8 131.6,397.4 131.7,398 131.8,398.6 131.9,399.2 132,399.8 132.1,400.4 132.2,401 132.3,401.5 132.4,402.1 132.5,402.6 132.5,416.3" fill="#e3e3e3"/>
<line x1="125.37" y1="416.30" x2="125.37" y2="352.58" stroke="#666" stroke-width="1.35" stroke-dasharray="3.2,2.5"/>
<polyline points="37.5,416.3 119.4,416.3 119.6,405 119.7,394.9 119.8,386.5 120,379.5 120.1,373.4 120.3,368.1 120.4,363.5 120.5,359.6 120.7,356.1 120.8,352.9 121,350.1 121.1,347.5 121.2,344.8 121.4,342 121.5,339.6 121.6,337.8 121.8,337.1 121.9,337.2 122.1,337.3 122.2,337.6 122.3,337.9 122.5,338.3 122.6,338.7 122.7,339.1 122.9,339.6 123,340.1 123.2,340.6 123.3,341.1 123.4,341.6 123.6,342.2 123.7,342.9 123.9,343.6 124,344.4 124.1,345.1 124.3,345.9 124.4,346.7 124.5,347.5 124.7,348.3 124.8,349.1 125,349.9 125.1,350.8 125.2,351.7 125.4,352.6 125.5,353.5 125.6,354.4 125.8,355.4 125.9,356.3 126.1,357.2 126.2,358.2 126.3,359.1 126.5,360.1 126.6,361 126.8,362 126.9,362.9 127,363.9 127.2,364.9 127.3,365.8 127.4,366.8 127.6,367.8 127.7,368.8 127.9,369.8 128,370.8 128.1,371.8 128.3,372.8 128.4,373.8 128.5,374.8 128.7,375.8 128.8,376.8 129,377.8 129.1,378.8 129.2,379.9 129.4,380.9 129.5,382 129.7,383.1 129.8,384.2 129.9,385.3 130.1,386.4 130.2,387.5 130.3,388.6 130.5,389.6 130.6,390.7 130.8,391.7 130.9,392.7 131,393.7 131.2,394.6 131.3,395.5 131.4,396.4 131.6,397.2 131.7,398.1 131.9,398.9 132,399.7 132.1,400.5 132.3,401.3 132.4,402 132.6,402.7 132.7,403.4 132.8,404.1 133,404.7 133.1,405.3 133.2,405.8 133.4,406.4 133.5,406.9 133.7,407.5 133.8,408 133.9,408.4 134.1,408.9 134.2,409.3 134.4,409.8 134.5,410.1 134.6,410.5 134.8,410.8 134.9,411.1 135,411.4 135.2,411.6 135.3,411.9 135.5,412.2 135.6,412.4 135.7,412.7 135.9,412.9 136,413.2 136.1,413.4 136.3,413.6 136.4,413.8 136.6,414 136.7,414.1 136.8,414.3 137,414.5 137.1,414.6 137.3,414.7 137.4,414.8 137.5,414.9 137.7,415 137.8,415.1 137.9,415.2 138.1,415.3 138.2,415.3 138.4,415.4 138.5,415.5 138.6,415.6 138.8,415.6 138.9,415.7 139,415.8 139.2,415.8 139.3,415.9 139.5,415.9 139.6,416 139.7,416.1 140,416.1 140.2,416.2 140.4,416.2 140.6,416.3 203.3,416.3" fill="none" stroke="#d62a2a" stroke-width="2.25" stroke-linejoin="round"/>
<polyline points="37.5,415.8 38.1,415.7 38.6,415.7 39.2,415.7 39.7,415.7 40.3,415.7 40.8,415.7 41.4,415.7 41.9,415.7 42.5,415.7 43.1,415.7 43.6,415.7 44.2,415.7 44.7,415.7 45.3,415.6 45.8,415.6 46.4,415.6 46.9,415.6 47.5,415.6 48,415.6 48.6,415.6 49.1,415.6 49.7,415.6 50.2,415.6 50.8,415.5 51.3,415.5 51.9,415.5 52.4,415.5 53,415.5 53.5,415.5 54.1,415.5 54.7,415.5 55.2,415.4 55.8,415.4 56.3,415.4 56.9,415.4 57.4,415.4 58,415.4 58.5,415.4 59.1,415.3 59.6,415.3 60.2,415.3 60.7,415.3 61.3,415.3 61.8,415.3 62.4,415.2 62.9,415.2 63.5,415.2 64,415.2 64.6,415.2 65.2,415.2 65.7,415.1 66.3,415.1 66.8,415.1 67.4,415.1 67.9,415 68.5,415 69,415 69.6,415 70.1,414.9 70.7,414.9 71.2,414.9 71.8,414.9 72.3,414.8 72.9,414.8 73.4,414.8 74,414.7 74.5,414.7 75.1,414.7 75.6,414.6 76.2,414.6 76.8,414.6 77.3,414.5 77.9,414.5 78.4,414.5 79,414.4 79.5,414.4 80.1,414.3 80.6,414.3 81.2,414.2 81.7,414.2 82.3,414.2 82.8,414.1 83.4,414 83.9,414 84.5,413.9 85,413.9 85.6,413.8 86.1,413.8 86.7,413.7 87.2,413.6 87.8,413.6 88.4,413.5 88.9,413.4 89.5,413.4 90,413.3 90.6,413.2 91.1,413.1 91.7,413 92.2,412.9 92.8,412.9 93.3,412.8 93.9,412.7 94.4,412.6 95,412.5 95.5,412.4 96.1,412.2 96.6,412.1 97.2,412 97.7,411.9 98.3,411.8 98.9,411.6 99.4,411.5 100,411.4 100.5,411.2 101.1,411.1 101.6,410.9 102.2,410.8 102.7,410.6 103.3,410.5 103.8,410.3 104.4,410.1 104.9,410 105.5,409.8 106,409.6 106.6,409.4 107.1,409.2 107.7,409 108.2,408.9 108.8,408.7 109.4,408.5 109.9,408.3 110.5,408.1 111,407.9 111.6,407.7 112.1,407.5 112.7,407.4 113.2,407.2 113.8,407 114.3,406.9 114.9,406.7 115.4,406.6 116,406.5 116.5,406.4 117.1,406.3 117.6,406.2 118.2,406.1 118.7,406 119.3,406 119.8,406 120.4,406 121,406 121.5,406 122.1,406 122.6,406.1 123.2,406.2 123.7,406.3 124.3,406.4 124.8,406.5 125.4,406.6 125.9,406.7 126.5,406.9 127,407 127.6,407.2 128.1,407.4 128.7,407.5 129.2,407.7 129.8,407.9 130.3,408.1 130.9,408.3 131.4,408.5 132,408.7 132.6,408.9 133.1,409 133.7,409.2 134.2,409.4 134.8,409.6 135.3,409.8 135.9,410 136.4,410.1 137,410.3 137.5,410.5 138.1,410.6 138.6,410.8 139.2,410.9 139.7,411.1 140.3,411.2 140.8,411.4 141.4,411.5 141.9,411.6 142.5,411.8 143.1,411.9 143.6,412 144.2,412.1 144.7,412.2 145.3,412.4 145.8,412.5 146.4,412.6 146.9,412.7 147.5,412.8 148,412.9 148.6,412.9 149.1,413 149.7,413.1 150.2,413.2 150.8,413.3 151.3,413.4 151.9,413.4 152.4,413.5 153,413.6 153.6,413.6 154.1,413.7 154.7,413.8 155.2,413.8 155.8,413.9 156.3,413.9 156.9,414 157.4,414 158,414.1 158.5,414.2 159.1,414.2 159.6,414.2 160.2,414.3 160.7,414.3 161.3,414.4 161.8,414.4 162.4,414.5 162.9,414.5 163.5,414.5 164,414.6 164.6,414.6 165.2,414.6 165.7,414.7 166.3,414.7 166.8,414.7 167.4,414.8 167.9,414.8 168.5,414.8 169,414.9 169.6,414.9 170.1,414.9 170.7,414.9 171.2,415 171.8,415 172.3,415 172.9,415 173.4,415.1 174,415.1 174.5,415.1 175.1,415.1 175.7,415.2 176.2,415.2 176.8,415.2 177.3,415.2 177.9,415.2 178.4,415.2 179,415.3 179.5,415.3 180.1,415.3 180.6,415.3 181.2,415.3 181.7,415.3 182.3,415.4 182.8,415.4 183.4,415.4 183.9,415.4 184.5,415.4 185,415.4 185.6,415.4 186.1,415.5 186.7,415.5 187.3,415.5 187.8,415.5 188.4,415.5 188.9,415.5 189.5,415.5 190,415.5 190.6,415.6 191.1,415.6 191.7,415.6 192.2,415.6 192.8,415.6 193.3,415.6 193.9,415.6 194.4,415.6 195,415.6 195.5,415.6 196.1,415.7 196.6,415.7 197.2,415.7 197.8,415.7 198.3,415.7 198.9,415.7 199.4,415.7 200,415.7 200.5,415.7 201.1,415.7 201.6,415.7 202.2,415.7 202.7,415.7 203.3,415.8" fill="none" stroke="#3a7cb4" stroke-width="2.2" stroke-linejoin="round"/>
<text x="120.6" y="332" font-size="7" text-anchor="middle" font-weight="bold" fill="#000" >theta - NE</text>
<text transform="translate(128.2,349.3) scale(1,1.22)" font-size="5.8" text-anchor="start" fill="#333"><tspan font-family="Liberation Serif" font-style="italic">μ</tspan> = 0.18</text>
<line x1="120.40" y1="422.00" x2="132.53" y2="422.00" stroke="#555" stroke-width="1.8" />
<text transform="translate(119.1,424.3) scale(1,1.18)" font-size="5.8" text-anchor="end" fill="#4d4d4d">0</text>
<text transform="translate(133.8,424.3) scale(1,1.18)" font-size="5.8" text-anchor="start" fill="#4d4d4d">0.439</text>
<text transform="translate(19.30,381.90) rotate(-90)" font-size="10" text-anchor="middle" font-weight="bold" fill="#262626" stroke="#262626" stroke-width="0.2">Density</text>
<text x="120.4" y="456.6" font-size="10" text-anchor="middle" font-weight="bold" fill="#262626">Effect Size <tspan font-family="Liberation Serif" font-style="italic" font-weight="normal">δ</tspan></text>
<path d="M238.30,333.20 L238.30,430.00 L415.10,430.00" fill="none" stroke="#383838" stroke-width="1.3"/>
<line x1="238.30" y1="416.30" x2="240.30" y2="416.30" stroke="#383838" stroke-width="1.3" />
<text transform="translate(234.80,421.00) scale(1,1.2)" font-size="9.5" text-anchor="end" font-weight="bold" fill="#262626" stroke="#262626" stroke-width="0.22">0</text>
<line x1="238.30" y1="393.35" x2="240.30" y2="393.35" stroke="#383838" stroke-width="1.3" />
<text transform="translate(234.80,398.05) scale(1,1.2)" font-size="9.5" text-anchor="end" font-weight="bold" fill="#262626" stroke="#262626" stroke-width="0.22">1</text>
<line x1="238.30" y1="370.40" x2="240.30" y2="370.40" stroke="#383838" stroke-width="1.3" />
<text transform="translate(234.80,375.10) scale(1,1.2)" font-size="9.5" text-anchor="end" font-weight="bold" fill="#262626" stroke="#262626" stroke-width="0.22">2</text>
<line x1="238.30" y1="347.45" x2="240.30" y2="347.45" stroke="#383838" stroke-width="1.3" />
<text transform="translate(234.80,352.15) scale(1,1.2)" font-size="9.5" text-anchor="end" font-weight="bold" fill="#262626" stroke="#262626" stroke-width="0.22">3</text>
<line x1="271.45" y1="430.00" x2="271.45" y2="428.00" stroke="#383838" stroke-width="1.3" />
<text transform="translate(271.45,444.00) scale(1,1.2)" font-size="9.5" text-anchor="middle" font-weight="bold" fill="#262626" stroke="#262626" stroke-width="0.22">-2</text>
<line x1="326.70" y1="430.00" x2="326.70" y2="428.00" stroke="#383838" stroke-width="1.3" />
<text transform="translate(326.70,444.00) scale(1,1.2)" font-size="9.5" text-anchor="middle" font-weight="bold" fill="#262626" stroke="#262626" stroke-width="0.22">0</text>
<line x1="381.95" y1="430.00" x2="381.95" y2="428.00" stroke="#383838" stroke-width="1.3" />
<text transform="translate(381.95,444.00) scale(1,1.2)" font-size="9.5" text-anchor="middle" font-weight="bold" fill="#262626" stroke="#262626" stroke-width="0.22">2</text>
<line x1="238.30" y1="416.30" x2="414.30" y2="416.30" stroke="#b8b8b8" stroke-width="0.8" />
<polygon points="326.7,416.3 326.7,395.6 326.9,394.2 327,393 327.2,392 327.3,391.1 327.5,390.2 327.6,389.4 327.8,388.6 328,387.8 328.1,387 328.3,386.2 328.4,385.4 328.6,384.6 328.7,383.9 328.9,383.2 329,382.5 329.2,381.8 329.4,381.1 329.5,380.5 329.7,379.8 329.8,379.2 330,378.6 330.1,378 330.3,377.4 330.5,376.8 330.6,376.3 330.8,375.7 330.9,375.2 331.1,374.7 331.2,374.3 331.4,373.9 331.5,373.6 331.7,373.3 331.9,373 332,372.7 332.2,372.4 332.3,372.1 332.5,371.8 332.6,371.6 332.8,371.4 333,371.3 333.1,371.1 333.3,371.1 333.4,371.1 333.6,371.2 333.7,371.3 333.9,371.4 334,371.7 334.2,371.9 334.4,372.2 334.5,372.5 334.7,372.8 334.8,373.2 335,373.5 335.1,373.9 335.3,374.2 335.5,374.6 335.6,375 335.8,375.3 335.9,375.6 336.1,376 336.2,376.4 336.4,376.8 336.5,377.2 336.7,377.6 336.9,378 337,378.5 337.2,378.9 337.3,379.4 337.5,379.9 337.6,380.3 337.8,380.8 338,381.3 338.1,381.8 338.3,382.3 338.4,382.8 338.6,383.3 338.7,383.8 338.9,384.4 339,384.9 339.2,385.5 339.4,386.1 339.5,386.6 339.7,387.2 339.8,387.8 340,388.4 340.1,389 340.3,389.6 340.5,390.2 340.6,390.7 340.8,391.4 340.9,392 341.1,392.6 341.2,393.3 341.4,393.9 341.5,394.6 341.7,395.2 341.9,395.9 342,396.5 342.2,397.1 342.3,397.8 342.5,398.4 342.6,398.9 342.8,399.5 343,400 343.1,400.6 343.3,401.1 343.4,401.6 343.6,402.1 343.7,402.6 343.9,403.1 344.1,403.6 344.2,404.1 344.4,404.5 344.5,405 344.7,405.4 344.8,405.8 345,406.3 345.1,406.6 345.3,407 345.5,407.4 345.5,416.3" fill="#e3e3e3"/>
<line x1="335.82" y1="416.30" x2="335.82" y2="375.40" stroke="#666" stroke-width="1.35" stroke-dasharray="3.2,2.5"/>
<polyline points="243.8,416.3 325.7,416.3 325.9,412 326,408.1 326.1,404.8 326.3,402 326.4,399.5 326.6,397.3 326.7,395.6 326.8,394.4 327,393.3 327.1,392.3 327.3,391.5 327.4,390.7 327.5,390 327.7,389.3 327.8,388.6 327.9,387.8 328.1,387.1 328.2,386.4 328.4,385.7 328.5,385 328.6,384.3 328.8,383.7 328.9,383.1 329,382.4 329.2,381.8 329.3,381.2 329.5,380.7 329.6,380.1 329.7,379.6 329.9,379 330,378.5 330.2,378 330.3,377.4 330.4,376.9 330.6,376.4 330.7,375.9 330.8,375.5 331,375 331.1,374.6 331.3,374.2 331.4,373.9 331.5,373.6 331.7,373.3 331.8,373.1 331.9,372.8 332.1,372.5 332.2,372.3 332.4,372 332.5,371.8 332.6,371.6 332.8,371.4 332.9,371.3 333.1,371.2 333.2,371.1 333.5,371.1 333.6,371.2 333.7,371.3 333.9,371.4 334,371.6 334.2,371.8 334.3,372.1 334.4,372.3 334.6,372.6 334.7,372.9 334.8,373.2 335,373.5 335.1,373.8 335.3,374.2 335.4,374.5 335.5,374.8 335.7,375.1 335.8,375.4 336,375.7 336.1,376 336.2,376.4 336.4,376.7 336.5,377.1 336.6,377.4 336.8,377.8 336.9,378.2 337.1,378.6 337.2,379 337.3,379.4 337.5,379.8 337.6,380.3 337.8,380.7 337.9,381.1 338,381.5 338.2,382 338.3,382.4 338.4,382.9 338.6,383.3 338.7,383.8 338.9,384.3 339,384.7 339.1,385.2 339.3,385.7 339.4,386.2 339.5,386.7 339.7,387.3 339.8,387.8 340,388.3 340.1,388.8 340.2,389.3 340.4,389.8 340.5,390.4 340.7,390.9 340.8,391.4 340.9,392 341.1,392.5 341.2,393.1 341.3,393.7 341.5,394.3 341.6,394.8 341.8,395.4 341.9,396 342,396.6 342.2,397.1 342.3,397.7 342.4,398.2 342.6,398.7 342.7,399.2 342.9,399.7 343,400.2 343.1,400.7 343.3,401.1 343.4,401.6 343.6,402 343.7,402.5 343.8,402.9 344,403.3 344.1,403.8 344.2,404.2 344.4,404.6 344.5,405 344.7,405.4 344.8,405.7 344.9,406.1 345.1,406.5 345.2,406.8 345.3,407.1 345.5,407.4 345.6,407.7 345.8,408.1 345.9,408.4 346,408.7 346.2,408.9 346.3,409.2 346.5,409.5 346.6,409.8 346.7,410.1 346.9,410.3 347,410.6 347.1,410.8 347.3,411.1 347.4,411.3 347.6,411.5 347.7,411.7 347.8,411.9 348,412.1 348.1,412.3 348.2,412.5 348.4,412.7 348.5,412.8 348.7,413 348.8,413.1 348.9,413.3 349.1,413.4 349.2,413.6 349.4,413.7 349.5,413.9 349.6,414 349.8,414.1 349.9,414.3 350,414.4 350.2,414.5 350.3,414.6 350.5,414.8 350.6,414.9 350.7,415 350.9,415.1 351,415.2 351.1,415.2 351.3,415.3 351.4,415.4 351.6,415.5 351.7,415.5 351.8,415.6 352,415.6 352.1,415.7 352.4,415.7 352.5,415.8 352.7,415.8 352.8,415.9 353.1,415.9 353.2,416 353.5,416 353.6,416.1 354,416.1 354.2,416.2 354.7,416.2 354.9,416.3 409.6,416.3" fill="none" stroke="#d62a2a" stroke-width="2.25" stroke-linejoin="round"/>
<polyline points="243.8,415.8 244.4,415.7 244.9,415.7 245.5,415.7 246,415.7 246.6,415.7 247.1,415.7 247.7,415.7 248.2,415.7 248.8,415.7 249.4,415.7 249.9,415.7 250.5,415.7 251,415.7 251.6,415.6 252.1,415.6 252.7,415.6 253.2,415.6 253.8,415.6 254.3,415.6 254.9,415.6 255.4,415.6 256,415.6 256.5,415.6 257.1,415.5 257.6,415.5 258.2,415.5 258.7,415.5 259.3,415.5 259.8,415.5 260.4,415.5 261,415.5 261.5,415.4 262.1,415.4 262.6,415.4 263.2,415.4 263.7,415.4 264.3,415.4 264.8,415.4 265.4,415.3 265.9,415.3 266.5,415.3 267,415.3 267.6,415.3 268.1,415.3 268.7,415.2 269.2,415.2 269.8,415.2 270.3,415.2 270.9,415.2 271.5,415.2 272,415.1 272.6,415.1 273.1,415.1 273.7,415.1 274.2,415 274.8,415 275.3,415 275.9,415 276.4,414.9 277,414.9 277.5,414.9 278.1,414.9 278.6,414.8 279.2,414.8 279.7,414.8 280.3,414.7 280.8,414.7 281.4,414.7 281.9,414.6 282.5,414.6 283.1,414.6 283.6,414.5 284.2,414.5 284.7,414.5 285.3,414.4 285.8,414.4 286.4,414.3 286.9,414.3 287.5,414.2 288,414.2 288.6,414.2 289.1,414.1 289.7,414 290.2,414 290.8,413.9 291.3,413.9 291.9,413.8 292.4,413.8 293,413.7 293.6,413.6 294.1,413.6 294.7,413.5 295.2,413.4 295.8,413.4 296.3,413.3 296.9,413.2 297.4,413.1 298,413 298.5,412.9 299.1,412.9 299.6,412.8 300.2,412.7 300.7,412.6 301.3,412.5 301.8,412.4 302.4,412.2 302.9,412.1 303.5,412 304,411.9 304.6,411.8 305.2,411.6 305.7,411.5 306.3,411.4 306.8,411.2 307.4,411.1 307.9,410.9 308.5,410.8 309,410.6 309.6,410.5 310.1,410.3 310.7,410.1 311.2,410 311.8,409.8 312.3,409.6 312.9,409.4 313.4,409.2 314,409 314.5,408.9 315.1,408.7 315.7,408.5 316.2,408.3 316.8,408.1 317.3,407.9 317.9,407.7 318.4,407.5 319,407.4 319.5,407.2 320.1,407 320.6,406.9 321.2,406.7 321.7,406.6 322.3,406.5 322.8,406.4 323.4,406.3 323.9,406.2 324.5,406.1 325,406 325.6,406 326.1,406 326.7,406 327.3,406 327.8,406 328.4,406 328.9,406.1 329.5,406.2 330,406.3 330.6,406.4 331.1,406.5 331.7,406.6 332.2,406.7 332.8,406.9 333.3,407 333.9,407.2 334.4,407.4 335,407.5 335.5,407.7 336.1,407.9 336.6,408.1 337.2,408.3 337.8,408.5 338.3,408.7 338.9,408.9 339.4,409 340,409.2 340.5,409.4 341.1,409.6 341.6,409.8 342.2,410 342.7,410.1 343.3,410.3 343.8,410.5 344.4,410.6 344.9,410.8 345.5,410.9 346,411.1 346.6,411.2 347.1,411.4 347.7,411.5 348.2,411.6 348.8,411.8 349.4,411.9 349.9,412 350.5,412.1 351,412.2 351.6,412.4 352.1,412.5 352.7,412.6 353.2,412.7 353.8,412.8 354.3,412.9 354.9,412.9 355.4,413 356,413.1 356.5,413.2 357.1,413.3 357.6,413.4 358.2,413.4 358.7,413.5 359.3,413.6 359.9,413.6 360.4,413.7 361,413.8 361.5,413.8 362.1,413.9 362.6,413.9 363.2,414 363.7,414 364.3,414.1 364.8,414.2 365.4,414.2 365.9,414.2 366.5,414.3 367,414.3 367.6,414.4 368.1,414.4 368.7,414.5 369.2,414.5 369.8,414.5 370.3,414.6 370.9,414.6 371.5,414.6 372,414.7 372.6,414.7 373.1,414.7 373.7,414.8 374.2,414.8 374.8,414.8 375.3,414.9 375.9,414.9 376.4,414.9 377,414.9 377.5,415 378.1,415 378.6,415 379.2,415 379.7,415.1 380.3,415.1 380.8,415.1 381.4,415.1 382,415.2 382.5,415.2 383.1,415.2 383.6,415.2 384.2,415.2 384.7,415.2 385.3,415.3 385.8,415.3 386.4,415.3 386.9,415.3 387.5,415.3 388,415.3 388.6,415.4 389.1,415.4 389.7,415.4 390.2,415.4 390.8,415.4 391.3,415.4 391.9,415.4 392.4,415.5 393,415.5 393.6,415.5 394.1,415.5 394.7,415.5 395.2,415.5 395.8,415.5 396.3,415.5 396.9,415.6 397.4,415.6 398,415.6 398.5,415.6 399.1,415.6 399.6,415.6 400.2,415.6 400.7,415.6 401.3,415.6 401.8,415.6 402.4,415.7 402.9,415.7 403.5,415.7 404.1,415.7 404.6,415.7 405.2,415.7 405.7,415.7 406.3,415.7 406.8,415.7 407.4,415.7 407.9,415.7 408.5,415.7 409,415.7 409.6,415.8" fill="none" stroke="#3a7cb4" stroke-width="2.2" stroke-linejoin="round"/>
<text x="326.9" y="332" font-size="7" text-anchor="middle" font-weight="bold" fill="#000" >alpha - NE</text>
<text transform="translate(335.3,366.8) scale(1,1.22)" font-size="5.8" text-anchor="middle" fill="#333"><tspan font-family="Liberation Serif" font-style="italic">μ</tspan> = 0.33</text>
<line x1="326.70" y1="422.00" x2="345.46" y2="422.00" stroke="#555" stroke-width="1.8" />
<text transform="translate(325.4,424.3) scale(1,1.18)" font-size="5.8" text-anchor="end" fill="#4d4d4d">0</text>
<text transform="translate(346.8,424.3) scale(1,1.18)" font-size="5.8" text-anchor="start" fill="#4d4d4d">0.679</text>
<text x="326.7" y="456.6" font-size="10" text-anchor="middle" font-weight="bold" fill="#262626">Effect Size <tspan font-family="Liberation Serif" font-style="italic" font-weight="normal">δ</tspan></text>
<path d="M451.60,333.20 L451.60,430.00 L628.40,430.00" fill="none" stroke="#383838" stroke-width="1.3"/>
<line x1="451.60" y1="416.30" x2="453.60" y2="416.30" stroke="#383838" stroke-width="1.3" />
<text transform="translate(448.10,421.00) scale(1,1.2)" font-size="9.5" text-anchor="end" font-weight="bold" fill="#262626" stroke="#262626" stroke-width="0.22">0</text>
<line x1="451.60" y1="393.35" x2="453.60" y2="393.35" stroke="#383838" stroke-width="1.3" />
<text transform="translate(448.10,398.05) scale(1,1.2)" font-size="9.5" text-anchor="end" font-weight="bold" fill="#262626" stroke="#262626" stroke-width="0.22">1</text>
<line x1="451.60" y1="370.40" x2="453.60" y2="370.40" stroke="#383838" stroke-width="1.3" />
<text transform="translate(448.10,375.10) scale(1,1.2)" font-size="9.5" text-anchor="end" font-weight="bold" fill="#262626" stroke="#262626" stroke-width="0.22">2</text>
<line x1="451.60" y1="347.45" x2="453.60" y2="347.45" stroke="#383838" stroke-width="1.3" />
<text transform="translate(448.10,352.15) scale(1,1.2)" font-size="9.5" text-anchor="end" font-weight="bold" fill="#262626" stroke="#262626" stroke-width="0.22">3</text>
<line x1="484.75" y1="430.00" x2="484.75" y2="428.00" stroke="#383838" stroke-width="1.3" />
<text transform="translate(484.75,444.00) scale(1,1.2)" font-size="9.5" text-anchor="middle" font-weight="bold" fill="#262626" stroke="#262626" stroke-width="0.22">-2</text>
<line x1="540.00" y1="430.00" x2="540.00" y2="428.00" stroke="#383838" stroke-width="1.3" />
<text transform="translate(540.00,444.00) scale(1,1.2)" font-size="9.5" text-anchor="middle" font-weight="bold" fill="#262626" stroke="#262626" stroke-width="0.22">0</text>
<line x1="595.25" y1="430.00" x2="595.25" y2="428.00" stroke="#383838" stroke-width="1.3" />
<text transform="translate(595.25,444.00) scale(1,1.2)" font-size="9.5" text-anchor="middle" font-weight="bold" fill="#262626" stroke="#262626" stroke-width="0.22">2</text>
<line x1="451.60" y1="416.30" x2="627.60" y2="416.30" stroke="#b8b8b8" stroke-width="0.8" />
<polygon points="524.1,416.3 524.1,407.9 524.3,407.4 524.5,407 524.7,406.5 524.9,406 525.1,405.4 525.3,404.9 525.5,404.4 525.7,403.8 525.9,403.3 526.1,402.7 526.3,402.2 526.5,401.6 526.7,401 526.9,400.3 527.1,399.7 527.3,399 527.5,398.4 527.7,397.7 527.9,397 528.1,396.3 528.3,395.6 528.5,395 528.7,394.3 528.9,393.6 529.1,393 529.2,392.3 529.4,391.7 529.6,391 529.8,390.4 530,389.7 530.2,389 530.4,388.3 530.6,387.6 530.8,386.8 531,386 531.2,385.1 531.4,384 531.6,383 531.8,381.9 532,380.9 532.2,379.9 532.4,379.2 532.6,378.6 532.8,378 533,377.5 533.2,377 533.4,376.5 533.6,376 533.8,375.7 534,375.4 534.2,375.1 534.4,375 534.6,375 534.8,375 535,375.1 535.2,375.2 535.4,375.3 535.6,375.4 535.8,375.5 536,375.7 536.2,375.9 536.4,376.1 536.6,376.3 536.8,376.5 537,376.7 537.2,377 537.4,377.4 537.6,377.8 537.8,378.3 538,378.9 538.2,379.5 538.4,380.2 538.6,380.8 538.8,381.5 539,382.1 539.2,382.8 539.4,383.5 539.6,384.2 539.8,385 540,385.8 540.2,386.7 540.4,387.5 540.6,388.4 540.8,389.2 541,390 541.2,390.8 541.4,391.5 541.6,392.3 541.8,393 542,393.7 542.2,394.5 542.4,395.2 542.6,395.9 542.8,396.6 543,397.3 543.2,398 543.4,398.7 543.6,399.4 543.8,400 544,400.7 544.2,401.3 544.4,401.9 544.6,402.5 544.8,403.1 545,403.7 545.2,404.3 545.4,404.9 545.6,405.4 545.8,406 546,406.5 546.2,407 546.4,407.5 546.6,407.9 546.8,408.4 547,408.8 547.2,409.2 547.4,409.6 547.6,410 547.8,410.4 548,410.8 548,416.3" fill="#e3e3e3"/>
<line x1="535.86" y1="416.30" x2="535.86" y2="375.54" stroke="#666" stroke-width="1.35" stroke-dasharray="3.2,2.5"/>
<polyline points="457.1,416.3 511.5,416.3 511.7,416.2 512.9,416.2 513.1,416.1 513.9,416.1 514,416 514.6,416 514.7,415.9 515.3,415.9 515.4,415.8 515.8,415.8 516,415.7 516.4,415.7 516.5,415.6 516.9,415.6 517.1,415.5 517.3,415.5 517.5,415.4 517.8,415.4 517.9,415.3 518.2,415.3 518.3,415.2 518.6,415.2 518.7,415.1 518.9,415.1 519,415 519.3,415 519.4,414.9 519.6,414.9 519.7,414.8 519.8,414.7 520,414.6 520.1,414.5 520.2,414.4 520.4,414.3 520.5,414.1 520.7,413.9 520.8,413.8 520.9,413.6 521.1,413.4 521.2,413.2 521.4,412.9 521.5,412.7 521.6,412.5 521.8,412.3 521.9,412 522,411.8 522.2,411.6 522.3,411.3 522.5,411.1 522.6,410.8 522.7,410.6 522.9,410.4 523,410.1 523.1,409.9 523.3,409.6 523.4,409.3 523.6,409 523.7,408.7 523.8,408.4 524,408.1 524.1,407.8 524.3,407.5 524.4,407.1 524.5,406.8 524.7,406.4 524.8,406.1 524.9,405.7 525.1,405.4 525.2,405 525.4,404.6 525.5,404.3 525.6,403.9 525.8,403.5 525.9,403.1 526,402.8 526.2,402.4 526.3,402 526.5,401.6 526.6,401.1 526.7,400.7 526.9,400.3 527,399.8 527.2,399.4 527.3,398.9 527.4,398.4 527.6,398 527.7,397.5 527.8,397 528,396.6 528.1,396.1 528.3,395.6 528.4,395.2 528.5,394.7 528.7,394.2 528.8,393.8 529,393.3 529.1,392.9 529.2,392.4 529.4,392 529.5,391.5 529.6,391.1 529.8,390.6 529.9,390.2 530.1,389.7 530.2,389.2 530.3,388.7 530.5,388.3 530.6,387.7 530.7,387.2 530.9,386.7 531,386.1 531.2,385.5 531.3,384.8 531.4,384.1 531.6,383.3 531.7,382.6 531.9,381.8 532,381.1 532.1,380.5 532.3,379.9 532.4,379.3 532.5,378.9 532.7,378.5 532.8,378.1 533,377.7 533.1,377.4 533.2,377 533.4,376.7 533.5,376.3 533.6,376 533.8,375.8 533.9,375.5 534.1,375.3 534.2,375.2 534.3,375.1 534.5,375 534.9,375 535,375.1 535.2,375.1 535.3,375.2 535.4,375.3 535.6,375.3 535.7,375.4 535.9,375.5 536,375.7 536.1,375.8 536.3,375.9 536.4,376 536.5,376.2 536.7,376.3 536.8,376.4 537,376.6 537.1,376.8 537.2,377 537.4,377.2 537.5,377.5 537.7,377.9 537.8,378.2 537.9,378.6 538.1,379 538.2,379.4 538.3,379.9 538.5,380.3 538.6,380.8 538.8,381.2 538.9,381.7 539,382.1 539.2,382.6 539.3,383 539.4,383.5 539.6,384.1 539.7,384.6 539.9,385.2 540,385.7 540.1,386.3 540.3,386.9 540.4,387.5 540.6,388.1 540.7,388.6 540.8,389.2 541,389.8 541.1,390.3 541.2,390.8 541.4,391.3 541.5,391.9 541.7,392.4 541.8,392.9 541.9,393.4 542.1,393.9 542.2,394.4 542.3,394.9 542.5,395.4 542.6,395.9 542.8,396.4 542.9,396.9 543,397.4 543.2,397.9 543.3,398.4 543.5,398.8 543.6,399.3 543.7,399.7 543.9,400.2 544,400.6 544.1,401 544.3,401.5 544.4,401.9 544.6,402.3 544.7,402.7 544.8,403.2 545,403.6 545.1,404 545.2,404.4 545.4,404.8 545.5,405.2 545.7,405.6 545.8,405.9 545.9,406.3 546.1,406.7 546.2,407 546.4,407.3 546.5,407.7 546.6,408 546.8,408.3 546.9,408.6 547,408.9 547.2,409.1 547.3,409.4 547.5,409.7 547.6,410 547.7,410.3 547.9,410.6 548,410.8 548.1,411.1 548.3,411.4 548.4,411.6 548.6,411.9 548.7,412.1 548.8,412.3 549,412.5 549.1,412.8 549.3,412.9 549.4,413.1 549.5,413.3 549.7,413.4 549.8,413.6 549.9,413.7 550.1,413.8 550.2,413.9 550.4,414 550.5,414.1 550.6,414.2 550.8,414.2 550.9,414.3 551,414.4 551.2,414.5 551.3,414.6 551.5,414.6 551.6,414.7 551.7,414.8 551.9,414.8 552,414.9 552.2,415 552.3,415 552.4,415.1 552.6,415.1 552.7,415.2 552.8,415.2 553,415.3 553.1,415.3 553.3,415.4 553.5,415.4 553.7,415.5 554,415.5 554.1,415.6 554.5,415.6 554.6,415.7 555.2,415.7 555.3,415.8 555.9,415.8 556,415.9 556.7,415.9 556.9,416 557.5,416 557.7,416.1 558.6,416.1 558.8,416.2 560.2,416.2 560.3,416.3 622.9,416.3" fill="none" stroke="#d62a2a" stroke-width="2.25" stroke-linejoin="round"/>
<polyline points="457.1,415.8 457.7,415.7 458.2,415.7 458.8,415.7 459.3,415.7 459.9,415.7 460.4,415.7 461,415.7 461.5,415.7 462.1,415.7 462.6,415.7 463.2,415.7 463.8,415.7 464.3,415.7 464.9,415.6 465.4,415.6 466,415.6 466.5,415.6 467.1,415.6 467.6,415.6 468.2,415.6 468.7,415.6 469.3,415.6 469.8,415.6 470.4,415.5 470.9,415.5 471.5,415.5 472,415.5 472.6,415.5 473.1,415.5 473.7,415.5 474.3,415.5 474.8,415.4 475.4,415.4 475.9,415.4 476.5,415.4 477,415.4 477.6,415.4 478.1,415.4 478.7,415.3 479.2,415.3 479.8,415.3 480.3,415.3 480.9,415.3 481.4,415.3 482,415.2 482.5,415.2 483.1,415.2 483.6,415.2 484.2,415.2 484.8,415.2 485.3,415.1 485.9,415.1 486.4,415.1 487,415.1 487.5,415 488.1,415 488.6,415 489.2,415 489.7,414.9 490.3,414.9 490.8,414.9 491.4,414.9 491.9,414.8 492.5,414.8 493,414.8 493.6,414.7 494.1,414.7 494.7,414.7 495.2,414.6 495.8,414.6 496.4,414.6 496.9,414.5 497.5,414.5 498,414.5 498.6,414.4 499.1,414.4 499.7,414.3 500.2,414.3 500.8,414.2 501.3,414.2 501.9,414.2 502.4,414.1 503,414 503.5,414 504.1,413.9 504.6,413.9 505.2,413.8 505.7,413.8 506.3,413.7 506.9,413.6 507.4,413.6 508,413.5 508.5,413.4 509.1,413.4 509.6,413.3 510.2,413.2 510.7,413.1 511.3,413 511.8,412.9 512.4,412.9 512.9,412.8 513.5,412.7 514,412.6 514.6,412.5 515.1,412.4 515.7,412.2 516.2,412.1 516.8,412 517.3,411.9 517.9,411.8 518.5,411.6 519,411.5 519.6,411.4 520.1,411.2 520.7,411.1 521.2,410.9 521.8,410.8 522.3,410.6 522.9,410.5 523.4,410.3 524,410.1 524.5,410 525.1,409.8 525.6,409.6 526.2,409.4 526.7,409.2 527.3,409 527.8,408.9 528.4,408.7 529,408.5 529.5,408.3 530.1,408.1 530.6,407.9 531.2,407.7 531.7,407.5 532.3,407.4 532.8,407.2 533.4,407 533.9,406.9 534.5,406.7 535,406.6 535.6,406.5 536.1,406.4 536.7,406.3 537.2,406.2 537.8,406.1 538.3,406 538.9,406 539.4,406 540,406 540.6,406 541.1,406 541.7,406 542.2,406.1 542.8,406.2 543.3,406.3 543.9,406.4 544.4,406.5 545,406.6 545.5,406.7 546.1,406.9 546.6,407 547.2,407.2 547.7,407.4 548.3,407.5 548.8,407.7 549.4,407.9 549.9,408.1 550.5,408.3 551,408.5 551.6,408.7 552.2,408.9 552.7,409 553.3,409.2 553.8,409.4 554.4,409.6 554.9,409.8 555.5,410 556,410.1 556.6,410.3 557.1,410.5 557.7,410.6 558.2,410.8 558.8,410.9 559.3,411.1 559.9,411.2 560.4,411.4 561,411.5 561.5,411.6 562.1,411.8 562.7,411.9 563.2,412 563.8,412.1 564.3,412.2 564.9,412.4 565.4,412.5 566,412.6 566.5,412.7 567.1,412.8 567.6,412.9 568.2,412.9 568.7,413 569.3,413.1 569.8,413.2 570.4,413.3 570.9,413.4 571.5,413.4 572,413.5 572.6,413.6 573.1,413.6 573.7,413.7 574.3,413.8 574.8,413.8 575.4,413.9 575.9,413.9 576.5,414 577,414 577.6,414.1 578.1,414.2 578.7,414.2 579.2,414.2 579.8,414.3 580.3,414.3 580.9,414.4 581.4,414.4 582,414.5 582.5,414.5 583.1,414.5 583.6,414.6 584.2,414.6 584.8,414.6 585.3,414.7 585.9,414.7 586.4,414.7 587,414.8 587.5,414.8 588.1,414.8 588.6,414.9 589.2,414.9 589.7,414.9 590.3,414.9 590.8,415 591.4,415 591.9,415 592.5,415 593,415.1 593.6,415.1 594.1,415.1 594.7,415.1 595.2,415.2 595.8,415.2 596.4,415.2 596.9,415.2 597.5,415.2 598,415.2 598.6,415.3 599.1,415.3 599.7,415.3 600.2,415.3 600.8,415.3 601.3,415.3 601.9,415.4 602.4,415.4 603,415.4 603.5,415.4 604.1,415.4 604.6,415.4 605.2,415.4 605.7,415.5 606.3,415.5 606.9,415.5 607.4,415.5 608,415.5 608.5,415.5 609.1,415.5 609.6,415.5 610.2,415.6 610.7,415.6 611.3,415.6 611.8,415.6 612.4,415.6 612.9,415.6 613.5,415.6 614,415.6 614.6,415.6 615.1,415.6 615.7,415.7 616.2,415.7 616.8,415.7 617.4,415.7 617.9,415.7 618.5,415.7 619,415.7 619.6,415.7 620.1,415.7 620.7,415.7 621.2,415.7 621.8,415.7 622.3,415.7 622.9,415.8" fill="none" stroke="#3a7cb4" stroke-width="2.2" stroke-linejoin="round"/>
<text x="540.2" y="332" font-size="7" text-anchor="middle" font-weight="bold" fill="#000" >control - NE</text>
<text transform="translate(535.4,368.8) scale(1,1.22)" font-size="5.8" text-anchor="middle" fill="#333"><tspan font-family="Liberation Serif" font-style="italic">μ</tspan> = -0.15</text>
<line x1="524.06" y1="422.00" x2="548.01" y2="422.00" stroke="#555" stroke-width="1.8" />
<text transform="translate(522.8,424.3) scale(1,1.18)" font-size="5.8" text-anchor="end" fill="#4d4d4d">-0.577</text>
<text transform="translate(549.3,424.3) scale(1,1.18)" font-size="5.8" text-anchor="start" fill="#4d4d4d">0.29</text>
<text x="540" y="456.6" font-size="10" text-anchor="middle" font-weight="bold" fill="#262626">Effect Size <tspan font-family="Liberation Serif" font-style="italic" font-weight="normal">δ</tspan></text>
<text x="634.6" y="205" font-size="7.9" text-anchor="start" font-weight="bold" fill="#000" >Distribution</text>
<line x1="634.30" y1="217.10" x2="639.70" y2="217.10" stroke="#d62a2a" stroke-width="2.0" />
<text x="642.4" y="220.6" font-size="9.8" text-anchor="start" font-weight="normal" fill="#000" >Posterior</text>
<line x1="634.30" y1="232.10" x2="639.70" y2="232.10" stroke="#3a7cb4" stroke-width="2.0" />
<text x="642.4" y="235.6" font-size="9.8" text-anchor="start" font-weight="normal" fill="#000" >Prior</text>
</svg></body></html>
